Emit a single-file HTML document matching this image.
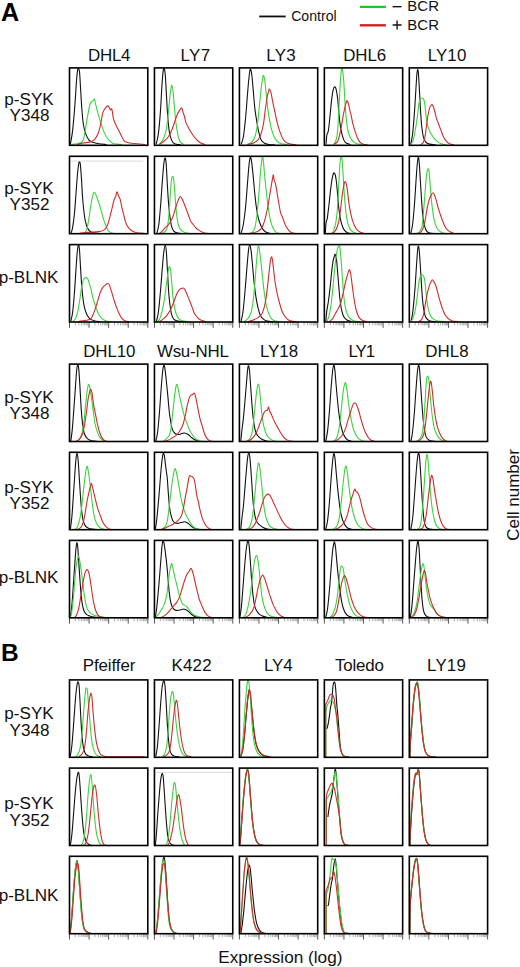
<!DOCTYPE html><html><head><meta charset="utf-8"><style>html,body{margin:0;padding:0;background:#fff;}svg{display:block;}</style></head><body>
<svg width="520" height="967" viewBox="0 0 520 967" font-family='"Liberation Sans", sans-serif'>
<rect width="520" height="967" fill="#fff"/>
<line x1="259.2" y1="16.45" x2="285.7" y2="16.45" stroke="#111" stroke-width="1.8"/>
<text x="291.18" y="20.60" font-size="14.10" fill="#111">Control</text>
<line x1="359.9" y1="6.9" x2="385.9" y2="6.9" stroke="#1ccc1c" stroke-width="2.3"/>
<line x1="359.9" y1="25.3" x2="385.9" y2="25.3" stroke="#d41a1a" stroke-width="2.3"/>
<line x1="392.6" y1="6.7" x2="401.5" y2="6.7" stroke="#111" stroke-width="1.35"/>
<path d="M392.6,25 H401.6 M397.1,20.5 V29.5" stroke="#111" stroke-width="1.35"/>
<text x="407.17" y="11.20" font-size="15.00" letter-spacing="0.13" fill="#111">BCR</text>
<text x="407.17" y="29.90" font-size="15.00" letter-spacing="0.13" fill="#111">BCR</text>
<text x="1.07" y="20.70" font-size="25.20" font-weight="bold" fill="#000">A</text>
<text x="0.96" y="661.10" font-size="24.50" font-weight="bold" fill="#000">B</text>
<text x="88.01" y="60.60" font-size="16.90" letter-spacing="-0.24" fill="#111">DHL4</text>
<text x="180.51" y="60.60" font-size="16.90" letter-spacing="0.38" fill="#111">LY7</text>
<text x="266.31" y="60.60" font-size="16.90" letter-spacing="0.33" fill="#111">LY3</text>
<text x="343.21" y="60.60" font-size="16.90" letter-spacing="-0.11" fill="#111">DHL6</text>
<text x="427.66" y="60.60" font-size="16.90" letter-spacing="0.14" fill="#111">LY10</text>
<text x="83.31" y="356.90" font-size="16.90" letter-spacing="-0.14" fill="#111">DHL10</text>
<text x="156.93" y="356.90" font-size="16.90" letter-spacing="-0.22" fill="#111">Wsu-NHL</text>
<text x="260.01" y="356.90" font-size="16.90" letter-spacing="-0.05" fill="#111">LY18</text>
<text x="348.41" y="356.90" font-size="16.90" letter-spacing="-1.03" fill="#111">LY1</text>
<text x="425.31" y="356.90" font-size="16.90" letter-spacing="0.07" fill="#111">DHL8</text>
<text x="82.76" y="671.00" font-size="16.90" letter-spacing="-0.09" fill="#111">Pfeiffer</text>
<text x="171.51" y="671.00" font-size="16.90" letter-spacing="0.22" fill="#111">K422</text>
<text x="264.01" y="671.00" font-size="16.90" letter-spacing="-0.09" fill="#111">LY4</text>
<text x="335.12" y="671.00" font-size="16.90" letter-spacing="-0.20" fill="#111">Toledo</text>
<text x="427.11" y="671.00" font-size="16.90" letter-spacing="0.17" fill="#111">LY19</text>
<text x="4.33" y="104.80" font-size="17.10" fill="#111">p-SYK</text>
<text x="9.57" y="121.30" font-size="17.10" fill="#111">Y348</text>
<text x="4.33" y="193.50" font-size="17.10" fill="#111">p-SYK</text>
<text x="9.62" y="210.10" font-size="17.10" fill="#111">Y352</text>
<text x="-1.34" y="283.40" font-size="17.10" fill="#111">p-BLNK</text>
<text x="4.33" y="402.50" font-size="17.10" fill="#111">p-SYK</text>
<text x="9.57" y="418.70" font-size="17.10" fill="#111">Y348</text>
<text x="4.33" y="492.90" font-size="17.10" fill="#111">p-SYK</text>
<text x="9.62" y="509.40" font-size="17.10" fill="#111">Y352</text>
<text x="-1.34" y="582.90" font-size="17.10" fill="#111">p-BLNK</text>
<text x="4.33" y="719.40" font-size="17.10" fill="#111">p-SYK</text>
<text x="9.57" y="736.20" font-size="17.10" fill="#111">Y348</text>
<text x="4.33" y="809.40" font-size="17.10" fill="#111">p-SYK</text>
<text x="9.62" y="826.20" font-size="17.10" fill="#111">Y352</text>
<text x="-1.34" y="901.20" font-size="17.10" fill="#111">p-BLNK</text>
<text x="218.24" y="962.60" font-size="17.20" fill="#111">Expression (log)</text>
<text transform="translate(518.8,494.6) rotate(-90)" x="-46.11" y="0" font-size="17.00" fill="#111">Cell number</text>
<path d="M69.50,322.00 v5.8 M89.08,322.00 v5.8 M108.65,322.00 v5.8 M128.22,322.00 v5.8 M147.80,322.00 v5.8" stroke="#555" stroke-width="1" fill="none"/>
<path d="M75.39,322.00 v3.4 M78.84,322.00 v3.4 M81.29,322.00 v3.4 M83.18,322.00 v3.4 M84.73,322.00 v3.4 M86.04,322.00 v3.4 M87.18,322.00 v3.4 M88.18,322.00 v3.4 M94.97,322.00 v3.4 M98.41,322.00 v3.4 M100.86,322.00 v3.4 M102.76,322.00 v3.4 M104.31,322.00 v3.4 M105.62,322.00 v3.4 M106.75,322.00 v3.4 M107.75,322.00 v3.4 M114.54,322.00 v3.4 M117.99,322.00 v3.4 M120.44,322.00 v3.4 M122.33,322.00 v3.4 M123.88,322.00 v3.4 M125.19,322.00 v3.4 M126.33,322.00 v3.4 M127.33,322.00 v3.4 M134.12,322.00 v3.4 M137.56,322.00 v3.4 M140.01,322.00 v3.4 M141.91,322.00 v3.4 M143.46,322.00 v3.4 M144.77,322.00 v3.4 M145.90,322.00 v3.4 M146.90,322.00 v3.4" stroke="#999" stroke-width="0.8" fill="none"/>
<path d="M154.45,322.00 v5.8 M174.02,322.00 v5.8 M193.60,322.00 v5.8 M213.17,322.00 v5.8 M232.75,322.00 v5.8" stroke="#555" stroke-width="1" fill="none"/>
<path d="M160.34,322.00 v3.4 M163.79,322.00 v3.4 M166.24,322.00 v3.4 M168.13,322.00 v3.4 M169.68,322.00 v3.4 M170.99,322.00 v3.4 M172.13,322.00 v3.4 M173.13,322.00 v3.4 M179.92,322.00 v3.4 M183.36,322.00 v3.4 M185.81,322.00 v3.4 M187.71,322.00 v3.4 M189.26,322.00 v3.4 M190.57,322.00 v3.4 M191.70,322.00 v3.4 M192.70,322.00 v3.4 M199.49,322.00 v3.4 M202.94,322.00 v3.4 M205.39,322.00 v3.4 M207.28,322.00 v3.4 M208.83,322.00 v3.4 M210.14,322.00 v3.4 M211.28,322.00 v3.4 M212.28,322.00 v3.4 M219.07,322.00 v3.4 M222.51,322.00 v3.4 M224.96,322.00 v3.4 M226.86,322.00 v3.4 M228.41,322.00 v3.4 M229.72,322.00 v3.4 M230.85,322.00 v3.4 M231.85,322.00 v3.4" stroke="#999" stroke-width="0.8" fill="none"/>
<path d="M239.40,322.00 v5.8 M258.98,322.00 v5.8 M278.55,322.00 v5.8 M298.12,322.00 v5.8 M317.70,322.00 v5.8" stroke="#555" stroke-width="1" fill="none"/>
<path d="M245.29,322.00 v3.4 M248.74,322.00 v3.4 M251.19,322.00 v3.4 M253.08,322.00 v3.4 M254.63,322.00 v3.4 M255.94,322.00 v3.4 M257.08,322.00 v3.4 M258.08,322.00 v3.4 M264.87,322.00 v3.4 M268.31,322.00 v3.4 M270.76,322.00 v3.4 M272.66,322.00 v3.4 M274.21,322.00 v3.4 M275.52,322.00 v3.4 M276.65,322.00 v3.4 M277.65,322.00 v3.4 M284.44,322.00 v3.4 M287.89,322.00 v3.4 M290.34,322.00 v3.4 M292.23,322.00 v3.4 M293.78,322.00 v3.4 M295.09,322.00 v3.4 M296.23,322.00 v3.4 M297.23,322.00 v3.4 M304.02,322.00 v3.4 M307.46,322.00 v3.4 M309.91,322.00 v3.4 M311.81,322.00 v3.4 M313.36,322.00 v3.4 M314.67,322.00 v3.4 M315.80,322.00 v3.4 M316.80,322.00 v3.4" stroke="#999" stroke-width="0.8" fill="none"/>
<path d="M324.35,322.00 v5.8 M343.93,322.00 v5.8 M363.50,322.00 v5.8 M383.08,322.00 v5.8 M402.65,322.00 v5.8" stroke="#555" stroke-width="1" fill="none"/>
<path d="M330.24,322.00 v3.4 M333.69,322.00 v3.4 M336.14,322.00 v3.4 M338.03,322.00 v3.4 M339.58,322.00 v3.4 M340.89,322.00 v3.4 M342.03,322.00 v3.4 M343.03,322.00 v3.4 M349.82,322.00 v3.4 M353.26,322.00 v3.4 M355.71,322.00 v3.4 M357.61,322.00 v3.4 M359.16,322.00 v3.4 M360.47,322.00 v3.4 M361.60,322.00 v3.4 M362.60,322.00 v3.4 M369.39,322.00 v3.4 M372.84,322.00 v3.4 M375.29,322.00 v3.4 M377.18,322.00 v3.4 M378.73,322.00 v3.4 M380.04,322.00 v3.4 M381.18,322.00 v3.4 M382.18,322.00 v3.4 M388.97,322.00 v3.4 M392.41,322.00 v3.4 M394.86,322.00 v3.4 M396.76,322.00 v3.4 M398.31,322.00 v3.4 M399.62,322.00 v3.4 M400.75,322.00 v3.4 M401.75,322.00 v3.4" stroke="#999" stroke-width="0.8" fill="none"/>
<path d="M409.30,322.00 v5.8 M428.88,322.00 v5.8 M448.45,322.00 v5.8 M468.02,322.00 v5.8 M487.60,322.00 v5.8" stroke="#555" stroke-width="1" fill="none"/>
<path d="M415.19,322.00 v3.4 M418.64,322.00 v3.4 M421.09,322.00 v3.4 M422.98,322.00 v3.4 M424.53,322.00 v3.4 M425.84,322.00 v3.4 M426.98,322.00 v3.4 M427.98,322.00 v3.4 M434.77,322.00 v3.4 M438.21,322.00 v3.4 M440.66,322.00 v3.4 M442.56,322.00 v3.4 M444.11,322.00 v3.4 M445.42,322.00 v3.4 M446.55,322.00 v3.4 M447.55,322.00 v3.4 M454.34,322.00 v3.4 M457.79,322.00 v3.4 M460.24,322.00 v3.4 M462.13,322.00 v3.4 M463.68,322.00 v3.4 M464.99,322.00 v3.4 M466.13,322.00 v3.4 M467.13,322.00 v3.4 M473.92,322.00 v3.4 M477.36,322.00 v3.4 M479.81,322.00 v3.4 M481.71,322.00 v3.4 M483.26,322.00 v3.4 M484.57,322.00 v3.4 M485.70,322.00 v3.4 M486.70,322.00 v3.4" stroke="#999" stroke-width="0.8" fill="none"/>
<path d="M69.50,617.80 v5.8 M89.08,617.80 v5.8 M108.65,617.80 v5.8 M128.22,617.80 v5.8 M147.80,617.80 v5.8" stroke="#555" stroke-width="1" fill="none"/>
<path d="M75.39,617.80 v3.4 M78.84,617.80 v3.4 M81.29,617.80 v3.4 M83.18,617.80 v3.4 M84.73,617.80 v3.4 M86.04,617.80 v3.4 M87.18,617.80 v3.4 M88.18,617.80 v3.4 M94.97,617.80 v3.4 M98.41,617.80 v3.4 M100.86,617.80 v3.4 M102.76,617.80 v3.4 M104.31,617.80 v3.4 M105.62,617.80 v3.4 M106.75,617.80 v3.4 M107.75,617.80 v3.4 M114.54,617.80 v3.4 M117.99,617.80 v3.4 M120.44,617.80 v3.4 M122.33,617.80 v3.4 M123.88,617.80 v3.4 M125.19,617.80 v3.4 M126.33,617.80 v3.4 M127.33,617.80 v3.4 M134.12,617.80 v3.4 M137.56,617.80 v3.4 M140.01,617.80 v3.4 M141.91,617.80 v3.4 M143.46,617.80 v3.4 M144.77,617.80 v3.4 M145.90,617.80 v3.4 M146.90,617.80 v3.4" stroke="#999" stroke-width="0.8" fill="none"/>
<path d="M154.45,617.80 v5.8 M174.02,617.80 v5.8 M193.60,617.80 v5.8 M213.17,617.80 v5.8 M232.75,617.80 v5.8" stroke="#555" stroke-width="1" fill="none"/>
<path d="M160.34,617.80 v3.4 M163.79,617.80 v3.4 M166.24,617.80 v3.4 M168.13,617.80 v3.4 M169.68,617.80 v3.4 M170.99,617.80 v3.4 M172.13,617.80 v3.4 M173.13,617.80 v3.4 M179.92,617.80 v3.4 M183.36,617.80 v3.4 M185.81,617.80 v3.4 M187.71,617.80 v3.4 M189.26,617.80 v3.4 M190.57,617.80 v3.4 M191.70,617.80 v3.4 M192.70,617.80 v3.4 M199.49,617.80 v3.4 M202.94,617.80 v3.4 M205.39,617.80 v3.4 M207.28,617.80 v3.4 M208.83,617.80 v3.4 M210.14,617.80 v3.4 M211.28,617.80 v3.4 M212.28,617.80 v3.4 M219.07,617.80 v3.4 M222.51,617.80 v3.4 M224.96,617.80 v3.4 M226.86,617.80 v3.4 M228.41,617.80 v3.4 M229.72,617.80 v3.4 M230.85,617.80 v3.4 M231.85,617.80 v3.4" stroke="#999" stroke-width="0.8" fill="none"/>
<path d="M239.40,617.80 v5.8 M258.98,617.80 v5.8 M278.55,617.80 v5.8 M298.12,617.80 v5.8 M317.70,617.80 v5.8" stroke="#555" stroke-width="1" fill="none"/>
<path d="M245.29,617.80 v3.4 M248.74,617.80 v3.4 M251.19,617.80 v3.4 M253.08,617.80 v3.4 M254.63,617.80 v3.4 M255.94,617.80 v3.4 M257.08,617.80 v3.4 M258.08,617.80 v3.4 M264.87,617.80 v3.4 M268.31,617.80 v3.4 M270.76,617.80 v3.4 M272.66,617.80 v3.4 M274.21,617.80 v3.4 M275.52,617.80 v3.4 M276.65,617.80 v3.4 M277.65,617.80 v3.4 M284.44,617.80 v3.4 M287.89,617.80 v3.4 M290.34,617.80 v3.4 M292.23,617.80 v3.4 M293.78,617.80 v3.4 M295.09,617.80 v3.4 M296.23,617.80 v3.4 M297.23,617.80 v3.4 M304.02,617.80 v3.4 M307.46,617.80 v3.4 M309.91,617.80 v3.4 M311.81,617.80 v3.4 M313.36,617.80 v3.4 M314.67,617.80 v3.4 M315.80,617.80 v3.4 M316.80,617.80 v3.4" stroke="#999" stroke-width="0.8" fill="none"/>
<path d="M324.35,617.80 v5.8 M343.93,617.80 v5.8 M363.50,617.80 v5.8 M383.08,617.80 v5.8 M402.65,617.80 v5.8" stroke="#555" stroke-width="1" fill="none"/>
<path d="M330.24,617.80 v3.4 M333.69,617.80 v3.4 M336.14,617.80 v3.4 M338.03,617.80 v3.4 M339.58,617.80 v3.4 M340.89,617.80 v3.4 M342.03,617.80 v3.4 M343.03,617.80 v3.4 M349.82,617.80 v3.4 M353.26,617.80 v3.4 M355.71,617.80 v3.4 M357.61,617.80 v3.4 M359.16,617.80 v3.4 M360.47,617.80 v3.4 M361.60,617.80 v3.4 M362.60,617.80 v3.4 M369.39,617.80 v3.4 M372.84,617.80 v3.4 M375.29,617.80 v3.4 M377.18,617.80 v3.4 M378.73,617.80 v3.4 M380.04,617.80 v3.4 M381.18,617.80 v3.4 M382.18,617.80 v3.4 M388.97,617.80 v3.4 M392.41,617.80 v3.4 M394.86,617.80 v3.4 M396.76,617.80 v3.4 M398.31,617.80 v3.4 M399.62,617.80 v3.4 M400.75,617.80 v3.4 M401.75,617.80 v3.4" stroke="#999" stroke-width="0.8" fill="none"/>
<path d="M409.30,617.80 v5.8 M428.88,617.80 v5.8 M448.45,617.80 v5.8 M468.02,617.80 v5.8 M487.60,617.80 v5.8" stroke="#555" stroke-width="1" fill="none"/>
<path d="M415.19,617.80 v3.4 M418.64,617.80 v3.4 M421.09,617.80 v3.4 M422.98,617.80 v3.4 M424.53,617.80 v3.4 M425.84,617.80 v3.4 M426.98,617.80 v3.4 M427.98,617.80 v3.4 M434.77,617.80 v3.4 M438.21,617.80 v3.4 M440.66,617.80 v3.4 M442.56,617.80 v3.4 M444.11,617.80 v3.4 M445.42,617.80 v3.4 M446.55,617.80 v3.4 M447.55,617.80 v3.4 M454.34,617.80 v3.4 M457.79,617.80 v3.4 M460.24,617.80 v3.4 M462.13,617.80 v3.4 M463.68,617.80 v3.4 M464.99,617.80 v3.4 M466.13,617.80 v3.4 M467.13,617.80 v3.4 M473.92,617.80 v3.4 M477.36,617.80 v3.4 M479.81,617.80 v3.4 M481.71,617.80 v3.4 M483.26,617.80 v3.4 M484.57,617.80 v3.4 M485.70,617.80 v3.4 M486.70,617.80 v3.4" stroke="#999" stroke-width="0.8" fill="none"/>
<path d="M69.50,933.70 v5.8 M89.08,933.70 v5.8 M108.65,933.70 v5.8 M128.22,933.70 v5.8 M147.80,933.70 v5.8" stroke="#555" stroke-width="1" fill="none"/>
<path d="M75.39,933.70 v3.4 M78.84,933.70 v3.4 M81.29,933.70 v3.4 M83.18,933.70 v3.4 M84.73,933.70 v3.4 M86.04,933.70 v3.4 M87.18,933.70 v3.4 M88.18,933.70 v3.4 M94.97,933.70 v3.4 M98.41,933.70 v3.4 M100.86,933.70 v3.4 M102.76,933.70 v3.4 M104.31,933.70 v3.4 M105.62,933.70 v3.4 M106.75,933.70 v3.4 M107.75,933.70 v3.4 M114.54,933.70 v3.4 M117.99,933.70 v3.4 M120.44,933.70 v3.4 M122.33,933.70 v3.4 M123.88,933.70 v3.4 M125.19,933.70 v3.4 M126.33,933.70 v3.4 M127.33,933.70 v3.4 M134.12,933.70 v3.4 M137.56,933.70 v3.4 M140.01,933.70 v3.4 M141.91,933.70 v3.4 M143.46,933.70 v3.4 M144.77,933.70 v3.4 M145.90,933.70 v3.4 M146.90,933.70 v3.4" stroke="#999" stroke-width="0.8" fill="none"/>
<path d="M154.45,933.70 v5.8 M174.02,933.70 v5.8 M193.60,933.70 v5.8 M213.17,933.70 v5.8 M232.75,933.70 v5.8" stroke="#555" stroke-width="1" fill="none"/>
<path d="M160.34,933.70 v3.4 M163.79,933.70 v3.4 M166.24,933.70 v3.4 M168.13,933.70 v3.4 M169.68,933.70 v3.4 M170.99,933.70 v3.4 M172.13,933.70 v3.4 M173.13,933.70 v3.4 M179.92,933.70 v3.4 M183.36,933.70 v3.4 M185.81,933.70 v3.4 M187.71,933.70 v3.4 M189.26,933.70 v3.4 M190.57,933.70 v3.4 M191.70,933.70 v3.4 M192.70,933.70 v3.4 M199.49,933.70 v3.4 M202.94,933.70 v3.4 M205.39,933.70 v3.4 M207.28,933.70 v3.4 M208.83,933.70 v3.4 M210.14,933.70 v3.4 M211.28,933.70 v3.4 M212.28,933.70 v3.4 M219.07,933.70 v3.4 M222.51,933.70 v3.4 M224.96,933.70 v3.4 M226.86,933.70 v3.4 M228.41,933.70 v3.4 M229.72,933.70 v3.4 M230.85,933.70 v3.4 M231.85,933.70 v3.4" stroke="#999" stroke-width="0.8" fill="none"/>
<path d="M239.40,933.70 v5.8 M258.98,933.70 v5.8 M278.55,933.70 v5.8 M298.12,933.70 v5.8 M317.70,933.70 v5.8" stroke="#555" stroke-width="1" fill="none"/>
<path d="M245.29,933.70 v3.4 M248.74,933.70 v3.4 M251.19,933.70 v3.4 M253.08,933.70 v3.4 M254.63,933.70 v3.4 M255.94,933.70 v3.4 M257.08,933.70 v3.4 M258.08,933.70 v3.4 M264.87,933.70 v3.4 M268.31,933.70 v3.4 M270.76,933.70 v3.4 M272.66,933.70 v3.4 M274.21,933.70 v3.4 M275.52,933.70 v3.4 M276.65,933.70 v3.4 M277.65,933.70 v3.4 M284.44,933.70 v3.4 M287.89,933.70 v3.4 M290.34,933.70 v3.4 M292.23,933.70 v3.4 M293.78,933.70 v3.4 M295.09,933.70 v3.4 M296.23,933.70 v3.4 M297.23,933.70 v3.4 M304.02,933.70 v3.4 M307.46,933.70 v3.4 M309.91,933.70 v3.4 M311.81,933.70 v3.4 M313.36,933.70 v3.4 M314.67,933.70 v3.4 M315.80,933.70 v3.4 M316.80,933.70 v3.4" stroke="#999" stroke-width="0.8" fill="none"/>
<path d="M324.35,933.70 v5.8 M343.93,933.70 v5.8 M363.50,933.70 v5.8 M383.08,933.70 v5.8 M402.65,933.70 v5.8" stroke="#555" stroke-width="1" fill="none"/>
<path d="M330.24,933.70 v3.4 M333.69,933.70 v3.4 M336.14,933.70 v3.4 M338.03,933.70 v3.4 M339.58,933.70 v3.4 M340.89,933.70 v3.4 M342.03,933.70 v3.4 M343.03,933.70 v3.4 M349.82,933.70 v3.4 M353.26,933.70 v3.4 M355.71,933.70 v3.4 M357.61,933.70 v3.4 M359.16,933.70 v3.4 M360.47,933.70 v3.4 M361.60,933.70 v3.4 M362.60,933.70 v3.4 M369.39,933.70 v3.4 M372.84,933.70 v3.4 M375.29,933.70 v3.4 M377.18,933.70 v3.4 M378.73,933.70 v3.4 M380.04,933.70 v3.4 M381.18,933.70 v3.4 M382.18,933.70 v3.4 M388.97,933.70 v3.4 M392.41,933.70 v3.4 M394.86,933.70 v3.4 M396.76,933.70 v3.4 M398.31,933.70 v3.4 M399.62,933.70 v3.4 M400.75,933.70 v3.4 M401.75,933.70 v3.4" stroke="#999" stroke-width="0.8" fill="none"/>
<path d="M409.30,933.70 v5.8 M428.88,933.70 v5.8 M448.45,933.70 v5.8 M468.02,933.70 v5.8 M487.60,933.70 v5.8" stroke="#555" stroke-width="1" fill="none"/>
<path d="M415.19,933.70 v3.4 M418.64,933.70 v3.4 M421.09,933.70 v3.4 M422.98,933.70 v3.4 M424.53,933.70 v3.4 M425.84,933.70 v3.4 M426.98,933.70 v3.4 M427.98,933.70 v3.4 M434.77,933.70 v3.4 M438.21,933.70 v3.4 M440.66,933.70 v3.4 M442.56,933.70 v3.4 M444.11,933.70 v3.4 M445.42,933.70 v3.4 M446.55,933.70 v3.4 M447.55,933.70 v3.4 M454.34,933.70 v3.4 M457.79,933.70 v3.4 M460.24,933.70 v3.4 M462.13,933.70 v3.4 M463.68,933.70 v3.4 M464.99,933.70 v3.4 M466.13,933.70 v3.4 M467.13,933.70 v3.4 M473.92,933.70 v3.4 M477.36,933.70 v3.4 M479.81,933.70 v3.4 M481.71,933.70 v3.4 M483.26,933.70 v3.4 M484.57,933.70 v3.4 M485.70,933.70 v3.4 M486.70,933.70 v3.4" stroke="#999" stroke-width="0.8" fill="none"/>
<g fill="none" stroke-width="1.1" stroke-linejoin="round" clip-path="url(#clip0_0)">
<path d="M70.31,144.46 C70.69,142.15 71.85,137.28 72.62,130.62 C73.38,123.95 74.28,112.67 74.92,104.46 C75.56,96.26 76.03,87.03 76.46,81.38 C76.90,75.74 77.21,72.79 77.54,70.62 C77.87,68.44 78.13,68.05 78.46,68.31 C78.79,68.56 79.18,68.69 79.54,72.15 C79.90,75.62 80.23,82.92 80.62,89.08 C81.00,95.23 81.38,103.18 81.85,109.08 C82.31,114.97 82.74,120.36 83.38,124.46 C84.03,128.56 84.79,131.13 85.69,133.69 C86.59,136.26 87.62,138.44 88.77,139.85 C89.92,141.26 90.95,141.51 92.62,142.15 C94.28,142.79 96.46,143.31 98.77,143.69 C101.08,144.08 105.18,144.33 106.46,144.46" stroke="#111"/>
<path d="M71.08,144.46 C72.10,144.33 75.31,144.21 77.23,143.69 C79.15,143.18 81.33,143.31 82.62,141.38 C83.90,139.46 84.15,136.00 84.92,132.15 C85.69,128.31 86.46,122.67 87.23,118.31 C88.00,113.95 88.90,108.69 89.54,106.00 C90.18,103.31 90.56,102.92 91.08,102.15 C91.59,101.38 92.05,101.90 92.62,101.38 C93.18,100.87 93.95,98.56 94.46,99.08 C94.97,99.59 95.10,102.03 95.69,104.46 C96.28,106.90 97.23,110.87 98.00,113.69 C98.77,116.51 99.41,118.56 100.31,121.38 C101.21,124.21 102.36,128.05 103.38,130.62 C104.41,133.18 105.31,134.97 106.46,136.77 C107.62,138.56 109.03,140.23 110.31,141.38 C111.59,142.54 112.23,143.18 114.15,143.69 C116.08,144.21 120.56,144.33 121.85,144.46" stroke="#3ad43a"/>
<path d="M77.23,144.46 C78.26,144.21 81.33,143.31 83.38,142.92 C85.44,142.54 87.74,142.67 89.54,142.15 C91.33,141.64 92.74,141.26 94.15,139.85 C95.56,138.44 96.97,136.00 98.00,133.69 C99.03,131.38 99.54,129.33 100.31,126.00 C101.08,122.67 101.97,116.38 102.62,113.69 C103.26,111.00 103.51,111.00 104.15,109.85 C104.79,108.69 105.77,107.41 106.46,106.77 C107.15,106.13 107.67,105.49 108.31,106.00 C108.95,106.51 109.72,109.33 110.31,109.85 C110.90,110.36 111.33,107.67 111.85,109.08 C112.36,110.49 112.74,115.74 113.38,118.31 C114.03,120.87 114.79,122.41 115.69,124.46 C116.59,126.51 117.74,128.56 118.77,130.62 C119.79,132.67 120.82,134.97 121.85,136.77 C122.87,138.56 123.64,140.36 124.92,141.38 C126.21,142.41 127.49,142.54 129.54,142.92 C131.59,143.31 134.67,143.44 137.23,143.69 C139.79,143.95 143.64,144.33 144.92,144.46" stroke="#d22b2b"/>
</g>
<g fill="none" stroke-width="1.1" stroke-linejoin="round" clip-path="url(#clip0_1)">
<path d="M156.08,144.46 C156.46,142.67 157.67,139.08 158.38,133.69 C159.10,128.31 159.79,120.10 160.38,112.15 C160.97,104.21 161.49,92.67 161.92,86.00 C162.36,79.33 162.64,75.10 163.00,72.15 C163.36,69.21 163.69,67.79 164.08,68.31 C164.46,68.82 164.90,70.49 165.31,75.23 C165.72,79.97 166.15,90.10 166.54,96.77 C166.92,103.44 167.18,109.59 167.62,115.23 C168.05,120.87 168.51,126.51 169.15,130.62 C169.79,134.72 170.56,137.67 171.46,139.85 C172.36,142.03 173.00,142.87 174.54,143.69 C176.08,144.51 179.67,144.59 180.69,144.77" stroke="#111"/>
<path d="M159.15,144.46 C159.79,143.69 161.85,142.15 163.00,139.85 C164.15,137.54 165.18,135.23 166.08,130.62 C166.97,126.00 167.74,117.79 168.38,112.15 C169.03,106.51 169.46,100.87 169.92,96.77 C170.38,92.67 170.85,89.46 171.15,87.54 C171.46,85.62 171.46,84.72 171.77,85.23 C172.08,85.74 172.59,87.41 173.00,90.62 C173.41,93.82 173.77,99.33 174.23,104.46 C174.69,109.59 175.21,116.51 175.77,121.38 C176.33,126.26 176.92,130.36 177.62,133.69 C178.31,137.03 178.90,139.59 179.92,141.38 C180.95,143.18 183.13,143.95 183.77,144.46" stroke="#3ad43a"/>
<path d="M159.15,144.46 C159.92,143.95 162.23,142.67 163.77,141.38 C165.31,140.10 166.97,138.82 168.38,136.77 C169.79,134.72 171.08,131.90 172.23,129.08 C173.38,126.26 174.41,122.41 175.31,119.85 C176.21,117.28 176.85,115.36 177.62,113.69 C178.38,112.03 179.23,110.82 179.92,109.85 C180.62,108.87 181.26,107.46 181.77,107.85 C182.28,108.23 182.54,110.67 183.00,112.15 C183.46,113.64 184.03,114.97 184.54,116.77 C185.05,118.56 185.31,120.87 186.08,122.92 C186.85,124.97 188.00,127.03 189.15,129.08 C190.31,131.13 191.72,133.44 193.00,135.23 C194.28,137.03 195.56,138.56 196.85,139.85 C198.13,141.13 199.28,142.15 200.69,142.92 C202.10,143.69 204.54,144.21 205.31,144.46" stroke="#d22b2b"/>
</g>
<g fill="none" stroke-width="1.1" stroke-linejoin="round" clip-path="url(#clip0_2)">
<path d="M241.08,144.46 C241.46,143.18 242.62,141.38 243.38,136.77 C244.15,132.15 245.00,123.95 245.69,116.77 C246.38,109.59 246.97,100.36 247.54,93.69 C248.10,87.03 248.62,80.87 249.08,76.77 C249.54,72.67 249.85,69.33 250.31,69.08 C250.77,68.82 251.33,71.38 251.85,75.23 C252.36,79.08 252.87,86.51 253.38,92.15 C253.90,97.79 254.36,104.21 254.92,109.08 C255.49,113.95 256.13,117.54 256.77,121.38 C257.41,125.23 258.05,129.08 258.77,132.15 C259.49,135.23 260.18,138.05 261.08,139.85 C261.97,141.64 262.87,142.15 264.15,142.92 C265.44,143.69 266.97,144.15 268.77,144.46 C270.56,144.77 273.90,144.72 274.92,144.77" stroke="#111"/>
<path d="M247.23,144.46 C248.00,144.08 250.56,143.44 251.85,142.15 C253.13,140.87 254.03,139.46 254.92,136.77 C255.82,134.08 256.51,130.87 257.23,126.00 C257.95,121.13 258.59,113.69 259.23,107.54 C259.87,101.38 260.51,93.95 261.08,89.08 C261.64,84.21 262.21,80.56 262.62,78.31 C263.03,76.05 263.15,75.03 263.54,75.54 C263.92,76.05 264.44,77.85 264.92,81.38 C265.41,84.92 265.87,91.38 266.46,96.77 C267.05,102.15 267.69,108.56 268.46,113.69 C269.23,118.82 270.13,123.69 271.08,127.54 C272.03,131.38 273.13,134.46 274.15,136.77 C275.18,139.08 276.08,140.23 277.23,141.38 C278.38,142.54 279.41,143.18 281.08,143.69 C282.74,144.21 286.21,144.33 287.23,144.46" stroke="#3ad43a"/>
<path d="M247.23,144.46 C248.26,144.21 251.59,143.69 253.38,142.92 C255.18,142.15 256.72,141.38 258.00,139.85 C259.28,138.31 260.18,136.26 261.08,133.69 C261.97,131.13 262.67,128.56 263.38,124.46 C264.10,120.36 264.74,113.69 265.38,109.08 C266.03,104.46 266.67,99.85 267.23,96.77 C267.79,93.69 268.38,91.90 268.77,90.62 C269.15,89.33 269.15,88.69 269.54,89.08 C269.92,89.46 270.56,90.87 271.08,92.92 C271.59,94.97 271.97,98.18 272.62,101.38 C273.26,104.59 274.15,108.56 274.92,112.15 C275.69,115.74 276.46,119.85 277.23,122.92 C278.00,126.00 278.64,128.05 279.54,130.62 C280.44,133.18 281.59,136.38 282.62,138.31 C283.64,140.23 284.41,141.18 285.69,142.15 C286.97,143.13 288.51,143.72 290.31,144.15 C292.10,144.59 295.44,144.67 296.46,144.77" stroke="#d22b2b"/>
</g>
<g fill="none" stroke-width="1.1" stroke-linejoin="round" clip-path="url(#clip0_3)">
<path d="M326.08,144.46 C326.21,142.92 326.46,137.54 326.85,135.23 C327.23,132.92 327.87,133.69 328.38,130.62 C328.90,127.54 329.41,121.64 329.92,116.77 C330.44,111.90 330.95,105.74 331.46,101.38 C331.97,97.03 332.49,93.05 333.00,90.62 C333.51,88.18 334.03,87.03 334.54,86.77 C335.05,86.51 335.56,87.15 336.08,89.08 C336.59,91.00 337.18,94.72 337.62,98.31 C338.05,101.90 338.31,106.51 338.69,110.62 C339.08,114.72 339.46,119.33 339.92,122.92 C340.38,126.51 340.82,129.33 341.46,132.15 C342.10,134.97 343.00,138.05 343.77,139.85 C344.54,141.64 344.92,142.15 346.08,142.92 C347.23,143.69 349.92,144.21 350.69,144.46" stroke="#111"/>
<path d="M333.77,144.46 C334.15,143.69 335.44,142.15 336.08,139.85 C336.72,137.54 337.18,135.23 337.62,130.62 C338.05,126.00 338.31,119.08 338.69,112.15 C339.08,105.23 339.51,95.74 339.92,89.08 C340.33,82.41 340.82,75.62 341.15,72.15 C341.49,68.69 341.67,68.56 341.92,68.31 C342.18,68.05 342.38,68.44 342.69,70.62 C343.00,72.79 343.41,76.51 343.77,81.38 C344.13,86.26 344.46,93.95 344.85,99.85 C345.23,105.74 345.62,111.90 346.08,116.77 C346.54,121.64 346.97,125.74 347.62,129.08 C348.26,132.41 349.03,134.72 349.92,136.77 C350.82,138.82 351.85,140.23 353.00,141.38 C354.15,142.54 355.44,143.18 356.85,143.69 C358.26,144.21 360.69,144.33 361.46,144.46" stroke="#3ad43a"/>
<path d="M333.77,144.46 C334.41,143.95 336.59,143.18 337.62,141.38 C338.64,139.59 339.28,136.26 339.92,133.69 C340.56,131.13 340.95,128.82 341.46,126.00 C341.97,123.18 342.49,119.59 343.00,116.77 C343.51,113.95 344.03,111.38 344.54,109.08 C345.05,106.77 345.64,104.33 346.08,102.92 C346.51,101.51 346.77,100.49 347.15,100.62 C347.54,100.74 347.92,102.03 348.38,103.69 C348.85,105.36 349.41,108.44 349.92,110.62 C350.44,112.79 350.95,114.46 351.46,116.77 C351.97,119.08 352.36,121.90 353.00,124.46 C353.64,127.03 354.54,129.85 355.31,132.15 C356.08,134.46 356.85,136.64 357.62,138.31 C358.38,139.97 359.03,141.18 359.92,142.15 C360.82,143.13 361.72,143.72 363.00,144.15 C364.28,144.59 366.85,144.67 367.62,144.77" stroke="#d22b2b"/>
</g>
<g fill="none" stroke-width="1.1" stroke-linejoin="round" clip-path="url(#clip0_4)">
<path d="M410.77,144.46 C411.08,142.67 412.00,139.08 412.62,133.69 C413.23,128.31 413.90,119.85 414.46,112.15 C415.03,104.46 415.59,93.95 416.00,87.54 C416.41,81.13 416.64,76.72 416.92,73.69 C417.21,70.67 417.44,69.38 417.69,69.38 C417.95,69.38 418.15,69.90 418.46,73.69 C418.77,77.49 419.18,85.74 419.54,92.15 C419.90,98.56 420.23,106.26 420.62,112.15 C421.00,118.05 421.38,123.44 421.85,127.54 C422.31,131.64 422.74,134.33 423.38,136.77 C424.03,139.21 424.67,140.92 425.69,142.15 C426.72,143.38 427.87,143.72 429.54,144.15 C431.21,144.59 434.67,144.67 435.69,144.77" stroke="#111"/>
<path d="M411.08,144.46 C411.46,143.69 412.62,142.67 413.38,139.85 C414.15,137.03 415.00,131.64 415.69,127.54 C416.38,123.44 416.97,119.33 417.54,115.23 C418.10,111.13 418.62,105.69 419.08,102.92 C419.54,100.15 419.85,99.38 420.31,98.62 C420.77,97.85 421.33,98.31 421.85,98.31 C422.36,98.31 422.92,97.85 423.38,98.62 C423.85,99.38 424.23,100.67 424.62,102.92 C425.00,105.18 425.33,109.08 425.69,112.15 C426.05,115.23 426.26,118.56 426.77,121.38 C427.28,124.21 428.05,127.03 428.77,129.08 C429.49,131.13 430.18,132.15 431.08,133.69 C431.97,135.23 433.13,137.03 434.15,138.31 C435.18,139.59 436.08,140.49 437.23,141.38 C438.38,142.28 439.54,143.13 441.08,143.69 C442.62,144.26 445.56,144.59 446.46,144.77" stroke="#3ad43a"/>
<path d="M420.31,144.77 C420.82,144.33 422.56,143.74 423.38,142.15 C424.21,140.56 424.72,137.92 425.23,135.23 C425.74,132.54 426.00,129.33 426.46,126.00 C426.92,122.67 427.49,118.18 428.00,115.23 C428.51,112.28 429.03,109.97 429.54,108.31 C430.05,106.64 430.64,105.82 431.08,105.23 C431.51,104.64 431.77,104.51 432.15,104.77 C432.54,105.03 432.92,105.54 433.38,106.77 C433.85,108.00 434.41,110.23 434.92,112.15 C435.44,114.08 435.82,116.26 436.46,118.31 C437.10,120.36 438.00,122.41 438.77,124.46 C439.54,126.51 440.31,128.56 441.08,130.62 C441.85,132.67 442.49,134.97 443.38,136.77 C444.28,138.56 445.44,140.23 446.46,141.38 C447.49,142.54 448.26,143.13 449.54,143.69 C450.82,144.26 453.38,144.59 454.15,144.77" stroke="#d22b2b"/>
</g>
<g fill="none" stroke-width="1.1" stroke-linejoin="round" clip-path="url(#clip1_0)">
<path d="M71.08,233.46 C71.33,232.44 72.05,230.64 72.62,227.31 C73.18,223.97 73.90,219.10 74.46,213.46 C75.03,207.82 75.49,200.13 76.00,193.46 C76.51,186.79 77.08,178.46 77.54,173.46 C78.00,168.46 78.44,165.46 78.77,163.46 C79.10,161.46 79.28,161.33 79.54,161.46 C79.79,161.59 79.97,161.21 80.31,164.23 C80.64,167.26 81.15,173.97 81.54,179.62 C81.92,185.26 82.18,192.44 82.62,198.08 C83.05,203.72 83.64,209.36 84.15,213.46 C84.67,217.56 85.05,220.13 85.69,222.69 C86.33,225.26 87.10,227.31 88.00,228.85 C88.90,230.38 89.79,231.21 91.08,231.92 C92.36,232.64 93.90,232.85 95.69,233.15 C97.49,233.46 100.82,233.67 101.85,233.77" stroke="#111"/>
<path d="M83.38,233.46 C83.90,232.95 85.56,232.69 86.46,230.38 C87.36,228.08 88.13,223.21 88.77,219.62 C89.41,216.03 89.79,212.18 90.31,208.85 C90.82,205.51 91.33,202.18 91.85,199.62 C92.36,197.05 92.95,194.69 93.38,193.46 C93.82,192.23 94.08,192.10 94.46,192.23 C94.85,192.36 95.23,193.26 95.69,194.23 C96.15,195.21 96.72,196.67 97.23,198.08 C97.74,199.49 98.26,201.15 98.77,202.69 C99.28,204.23 99.79,205.51 100.31,207.31 C100.82,209.10 101.21,211.15 101.85,213.46 C102.49,215.77 103.38,218.85 104.15,221.15 C104.92,223.46 105.69,225.64 106.46,227.31 C107.23,228.97 107.87,230.18 108.77,231.15 C109.67,232.13 110.44,232.72 111.85,233.15 C113.26,233.59 116.33,233.67 117.23,233.77" stroke="#3ad43a"/>
<path d="M77.23,233.77 C78.26,233.59 81.08,232.95 83.38,232.69 C85.69,232.44 88.51,232.41 91.08,232.23 C93.64,232.05 96.72,231.92 98.77,231.62 C100.82,231.31 102.10,231.10 103.38,230.38 C104.67,229.67 105.56,228.85 106.46,227.31 C107.36,225.77 108.05,223.46 108.77,221.15 C109.49,218.85 110.13,216.03 110.77,213.46 C111.41,210.90 112.05,208.08 112.62,205.77 C113.18,203.46 113.64,201.15 114.15,199.62 C114.67,198.08 115.23,197.82 115.69,196.54 C116.15,195.26 116.54,192.31 116.92,191.92 C117.31,191.54 117.69,193.46 118.00,194.23 C118.31,195.00 118.38,195.64 118.77,196.54 C119.15,197.44 119.79,197.82 120.31,199.62 C120.82,201.41 121.33,205.00 121.85,207.31 C122.36,209.62 122.82,211.15 123.38,213.46 C123.95,215.77 124.59,219.10 125.23,221.15 C125.87,223.21 126.51,224.49 127.23,225.77 C127.95,227.05 128.64,227.95 129.54,228.85 C130.44,229.74 131.33,230.51 132.62,231.15 C133.90,231.79 135.18,232.31 137.23,232.69 C139.28,233.08 143.64,233.33 144.92,233.46" stroke="#d22b2b"/>
</g>
<g fill="none" stroke-width="1.1" stroke-linejoin="round" clip-path="url(#clip1_1)">
<path d="M156.85,233.46 C157.18,231.92 158.21,229.10 158.85,224.23 C159.49,219.36 160.13,211.15 160.69,204.23 C161.26,197.31 161.72,189.36 162.23,182.69 C162.74,176.03 163.31,168.33 163.77,164.23 C164.23,160.13 164.62,158.33 165.00,158.08 C165.38,157.82 165.72,158.85 166.08,162.69 C166.44,166.54 166.77,174.74 167.15,181.15 C167.54,187.56 167.92,195.26 168.38,201.15 C168.85,207.05 169.41,212.44 169.92,216.54 C170.44,220.64 170.82,223.33 171.46,225.77 C172.10,228.21 172.74,229.92 173.77,231.15 C174.79,232.38 175.95,232.72 177.62,233.15 C179.28,233.59 182.74,233.67 183.77,233.77" stroke="#111"/>
<path d="M162.23,233.46 C162.87,232.95 165.10,232.18 166.08,230.38 C167.05,228.59 167.49,226.79 168.08,222.69 C168.67,218.59 169.18,211.41 169.62,205.77 C170.05,200.13 170.33,193.46 170.69,188.85 C171.05,184.23 171.46,180.18 171.77,178.08 C172.08,175.97 172.26,176.23 172.54,176.23 C172.82,176.23 173.13,175.97 173.46,178.08 C173.79,180.18 174.15,184.23 174.54,188.85 C174.92,193.46 175.31,200.64 175.77,205.77 C176.23,210.90 176.74,216.03 177.31,219.62 C177.87,223.21 178.33,225.38 179.15,227.31 C179.97,229.23 180.95,230.18 182.23,231.15 C183.51,232.13 185.05,232.72 186.85,233.15 C188.64,233.59 191.97,233.67 193.00,233.77" stroke="#3ad43a"/>
<path d="M159.15,233.77 C159.67,233.33 161.21,232.23 162.23,231.15 C163.26,230.08 164.28,228.33 165.31,227.31 C166.33,226.28 167.49,226.03 168.38,225.00 C169.28,223.97 169.92,222.56 170.69,221.15 C171.46,219.74 172.23,218.59 173.00,216.54 C173.77,214.49 174.59,211.15 175.31,208.85 C176.03,206.54 176.72,204.36 177.31,202.69 C177.90,201.03 178.33,199.87 178.85,198.85 C179.36,197.82 179.87,196.54 180.38,196.54 C180.90,196.54 181.36,197.82 181.92,198.85 C182.49,199.87 183.08,201.03 183.77,202.69 C184.46,204.36 185.31,206.79 186.08,208.85 C186.85,210.90 187.62,212.95 188.38,215.00 C189.15,217.05 189.92,219.62 190.69,221.15 C191.46,222.69 192.10,223.08 193.00,224.23 C193.90,225.38 195.05,227.05 196.08,228.08 C197.10,229.10 197.87,229.62 199.15,230.38 C200.44,231.15 201.72,232.13 203.77,232.69 C205.82,233.26 210.18,233.59 211.46,233.77" stroke="#d22b2b"/>
</g>
<g fill="none" stroke-width="1.1" stroke-linejoin="round" clip-path="url(#clip1_2)">
<path d="M241.08,233.46 C241.46,231.92 242.62,228.85 243.38,224.23 C244.15,219.62 245.00,212.69 245.69,205.77 C246.38,198.85 246.97,189.62 247.54,182.69 C248.10,175.77 248.62,168.46 249.08,164.23 C249.54,160.00 249.90,157.82 250.31,157.31 C250.72,156.79 251.08,158.21 251.54,161.15 C252.00,164.10 252.56,169.87 253.08,175.00 C253.59,180.13 254.10,186.79 254.62,191.92 C255.13,197.05 255.59,201.67 256.15,205.77 C256.72,209.87 257.31,213.46 258.00,216.54 C258.69,219.62 259.54,222.18 260.31,224.23 C261.08,226.28 261.72,227.56 262.62,228.85 C263.51,230.13 264.41,231.15 265.69,231.92 C266.97,232.69 268.51,233.15 270.31,233.46 C272.10,233.77 275.44,233.72 276.46,233.77" stroke="#111"/>
<path d="M248.77,233.77 C249.41,233.46 251.59,233.00 252.62,231.92 C253.64,230.85 254.23,229.87 254.92,227.31 C255.62,224.74 256.21,220.90 256.77,216.54 C257.33,212.18 257.79,207.05 258.31,201.15 C258.82,195.26 259.38,187.05 259.85,181.15 C260.31,175.26 260.67,169.74 261.08,165.77 C261.49,161.79 261.92,158.08 262.31,157.31 C262.69,156.54 263.03,158.46 263.38,161.15 C263.74,163.85 264.03,168.85 264.46,173.46 C264.90,178.08 265.41,183.46 266.00,188.85 C266.59,194.23 267.28,200.64 268.00,205.77 C268.72,210.90 269.54,216.03 270.31,219.62 C271.08,223.21 271.72,225.26 272.62,227.31 C273.51,229.36 274.54,230.90 275.69,231.92 C276.85,232.95 278.90,233.21 279.54,233.46" stroke="#3ad43a"/>
<path d="M247.23,233.77 C248.26,233.59 251.59,233.13 253.38,232.69 C255.18,232.26 256.72,231.79 258.00,231.15 C259.28,230.51 260.18,230.00 261.08,228.85 C261.97,227.69 262.62,226.28 263.38,224.23 C264.15,222.18 264.92,219.62 265.69,216.54 C266.46,213.46 267.28,209.62 268.00,205.77 C268.72,201.92 269.41,197.05 270.00,193.46 C270.59,189.87 271.10,186.79 271.54,184.23 C271.97,181.67 272.31,179.62 272.62,178.08 C272.92,176.54 273.10,174.49 273.38,175.00 C273.67,175.51 274.00,179.87 274.31,181.15 C274.62,182.44 274.87,181.41 275.23,182.69 C275.59,183.97 276.05,186.54 276.46,188.85 C276.87,191.15 277.23,193.72 277.69,196.54 C278.15,199.36 278.72,202.95 279.23,205.77 C279.74,208.59 280.26,211.67 280.77,213.46 C281.28,215.26 281.79,215.26 282.31,216.54 C282.82,217.82 283.28,219.62 283.85,221.15 C284.41,222.69 284.87,224.23 285.69,225.77 C286.51,227.31 287.74,229.23 288.77,230.38 C289.79,231.54 290.05,232.13 291.85,232.69 C293.64,233.26 298.26,233.59 299.54,233.77" stroke="#d22b2b"/>
</g>
<g fill="none" stroke-width="1.1" stroke-linejoin="round" clip-path="url(#clip1_3)">
<path d="M325.31,233.46 C325.44,231.67 325.74,225.26 326.08,222.69 C326.41,220.13 326.85,220.90 327.31,218.08 C327.77,215.26 328.28,210.64 328.85,205.77 C329.41,200.90 330.13,193.46 330.69,188.85 C331.26,184.23 331.77,180.64 332.23,178.08 C332.69,175.51 333.13,174.31 333.46,173.46 C333.79,172.62 333.92,172.74 334.23,173.00 C334.54,173.26 334.92,173.38 335.31,175.00 C335.69,176.62 336.15,179.36 336.54,182.69 C336.92,186.03 337.26,190.90 337.62,195.00 C337.97,199.10 338.26,203.46 338.69,207.31 C339.13,211.15 339.64,215.00 340.23,218.08 C340.82,221.15 341.51,223.72 342.23,225.77 C342.95,227.82 343.64,229.23 344.54,230.38 C345.44,231.54 346.33,232.13 347.62,232.69 C348.90,233.26 351.46,233.59 352.23,233.77" stroke="#111"/>
<path d="M331.46,233.77 C331.85,233.21 333.00,232.49 333.77,230.38 C334.54,228.28 335.44,225.26 336.08,221.15 C336.72,217.05 337.15,212.18 337.62,205.77 C338.08,199.36 338.46,189.62 338.85,182.69 C339.23,175.77 339.56,168.46 339.92,164.23 C340.28,160.00 340.67,158.33 341.00,157.31 C341.33,156.28 341.64,156.41 341.92,158.08 C342.21,159.74 342.38,162.69 342.69,167.31 C343.00,171.92 343.41,180.13 343.77,185.77 C344.13,191.41 344.46,196.54 344.85,201.15 C345.23,205.77 345.62,209.87 346.08,213.46 C346.54,217.05 346.97,220.13 347.62,222.69 C348.26,225.26 349.03,227.31 349.92,228.85 C350.82,230.38 351.85,231.15 353.00,231.92 C354.15,232.69 356.21,233.21 356.85,233.46" stroke="#3ad43a"/>
<path d="M330.69,233.77 C331.33,233.46 333.38,233.26 334.54,231.92 C335.69,230.59 336.77,228.33 337.62,225.77 C338.46,223.21 339.03,220.13 339.62,216.54 C340.21,212.95 340.64,208.33 341.15,204.23 C341.67,200.13 342.18,195.38 342.69,191.92 C343.21,188.46 343.79,185.21 344.23,183.46 C344.67,181.72 344.95,181.33 345.31,181.46 C345.67,181.59 346.00,182.49 346.38,184.23 C346.77,185.97 347.21,188.85 347.62,191.92 C348.03,195.00 348.38,199.36 348.85,202.69 C349.31,206.03 349.82,209.10 350.38,211.92 C350.95,214.74 351.54,217.31 352.23,219.62 C352.92,221.92 353.77,224.10 354.54,225.77 C355.31,227.44 355.95,228.59 356.85,229.62 C357.74,230.64 358.64,231.28 359.92,231.92 C361.21,232.56 363.77,233.21 364.54,233.46" stroke="#d22b2b"/>
</g>
<g fill="none" stroke-width="1.1" stroke-linejoin="round" clip-path="url(#clip1_4)">
<path d="M410.77,233.46 C411.08,231.92 412.00,229.10 412.62,224.23 C413.23,219.36 413.90,211.41 414.46,204.23 C415.03,197.05 415.54,187.82 416.00,181.15 C416.46,174.49 416.85,168.21 417.23,164.23 C417.62,160.26 417.97,157.56 418.31,157.31 C418.64,157.05 418.90,158.97 419.23,162.69 C419.56,166.41 419.92,173.46 420.31,179.62 C420.69,185.77 421.13,193.72 421.54,199.62 C421.95,205.51 422.33,210.90 422.77,215.00 C423.21,219.10 423.59,221.67 424.15,224.23 C424.72,226.79 425.26,228.92 426.15,230.38 C427.05,231.85 427.95,232.44 429.54,233.00 C431.13,233.56 434.67,233.64 435.69,233.77" stroke="#111"/>
<path d="M415.69,233.77 C416.33,233.46 418.46,233.26 419.54,231.92 C420.62,230.59 421.51,228.85 422.15,225.77 C422.79,222.69 422.97,218.08 423.38,213.46 C423.79,208.85 424.23,202.95 424.62,198.08 C425.00,193.21 425.33,188.33 425.69,184.23 C426.05,180.13 426.38,176.03 426.77,173.46 C427.15,170.90 427.62,169.10 428.00,168.85 C428.38,168.59 428.69,169.10 429.08,171.92 C429.46,174.74 429.92,181.15 430.31,185.77 C430.69,190.38 431.00,195.51 431.38,199.62 C431.77,203.72 432.15,207.05 432.62,210.38 C433.08,213.72 433.51,216.79 434.15,219.62 C434.79,222.44 435.56,225.38 436.46,227.31 C437.36,229.23 438.38,230.18 439.54,231.15 C440.69,232.13 441.97,232.72 443.38,233.15 C444.79,233.59 447.23,233.67 448.00,233.77" stroke="#3ad43a"/>
<path d="M417.23,233.77 C417.87,233.46 420.05,233.00 421.08,231.92 C422.10,230.85 422.69,229.36 423.38,227.31 C424.08,225.26 424.67,222.44 425.23,219.62 C425.79,216.79 426.18,213.46 426.77,210.38 C427.36,207.31 428.05,203.72 428.77,201.15 C429.49,198.59 430.36,196.41 431.08,195.00 C431.79,193.59 432.51,192.69 433.08,192.69 C433.64,192.69 433.97,193.85 434.46,195.00 C434.95,196.15 435.41,197.56 436.00,199.62 C436.59,201.67 437.33,205.00 438.00,207.31 C438.67,209.62 439.31,211.41 440.00,213.46 C440.69,215.51 441.38,217.56 442.15,219.62 C442.92,221.67 443.77,224.10 444.62,225.77 C445.46,227.44 446.28,228.59 447.23,229.62 C448.18,230.64 449.15,231.28 450.31,231.92 C451.46,232.56 453.51,233.21 454.15,233.46" stroke="#d22b2b"/>
</g>
<g fill="none" stroke-width="1.1" stroke-linejoin="round" clip-path="url(#clip2_0)">
<path d="M70.77,321.46 C71.08,319.92 72.00,317.10 72.62,312.23 C73.23,307.36 73.90,299.41 74.46,292.23 C75.03,285.05 75.54,275.82 76.00,269.15 C76.46,262.49 76.82,256.28 77.23,252.23 C77.64,248.18 78.08,245.10 78.46,244.85 C78.85,244.59 79.18,246.64 79.54,250.69 C79.90,254.74 80.23,263.00 80.62,269.15 C81.00,275.31 81.38,282.23 81.85,287.62 C82.31,293.00 82.87,297.87 83.38,301.46 C83.90,305.05 84.28,306.85 84.92,309.15 C85.56,311.46 86.33,313.64 87.23,315.31 C88.13,316.97 89.15,318.26 90.31,319.15 C91.46,320.05 92.49,320.26 94.15,320.69 C95.82,321.13 99.28,321.59 100.31,321.77" stroke="#111"/>
<path d="M72.62,321.77 C73.13,321.21 74.79,320.23 75.69,318.38 C76.59,316.54 77.28,314.03 78.00,310.69 C78.72,307.36 79.41,302.23 80.00,298.38 C80.59,294.54 81.03,290.56 81.54,287.62 C82.05,284.67 82.56,282.28 83.08,280.69 C83.59,279.10 84.05,278.59 84.62,278.08 C85.18,277.56 85.90,277.44 86.46,277.62 C87.03,277.79 87.49,278.00 88.00,279.15 C88.51,280.31 89.03,282.87 89.54,284.54 C90.05,286.21 90.56,287.10 91.08,289.15 C91.59,291.21 92.05,294.54 92.62,296.85 C93.18,299.15 93.82,300.95 94.46,303.00 C95.10,305.05 95.74,307.23 96.46,309.15 C97.18,311.08 97.87,313.00 98.77,314.54 C99.67,316.08 100.69,317.36 101.85,318.38 C103.00,319.41 104.15,320.13 105.69,320.69 C107.23,321.26 110.18,321.59 111.08,321.77" stroke="#3ad43a"/>
<path d="M77.23,321.77 C78.26,321.59 81.59,321.00 83.38,320.69 C85.18,320.38 86.72,320.31 88.00,319.92 C89.28,319.54 90.18,319.41 91.08,318.38 C91.97,317.36 92.62,315.56 93.38,313.77 C94.15,311.97 94.92,309.92 95.69,307.62 C96.46,305.31 97.23,302.49 98.00,299.92 C98.77,297.36 99.54,294.28 100.31,292.23 C101.08,290.18 101.85,288.77 102.62,287.62 C103.38,286.46 104.15,285.95 104.92,285.31 C105.69,284.67 106.59,284.03 107.23,283.77 C107.87,283.51 108.26,283.13 108.77,283.77 C109.28,284.41 109.67,285.69 110.31,287.62 C110.95,289.54 111.85,292.74 112.62,295.31 C113.38,297.87 114.15,300.69 114.92,303.00 C115.69,305.31 116.46,307.23 117.23,309.15 C118.00,311.08 118.77,313.00 119.54,314.54 C120.31,316.08 120.95,317.36 121.85,318.38 C122.74,319.41 123.64,320.13 124.92,320.69 C126.21,321.26 128.77,321.59 129.54,321.77" stroke="#d22b2b"/>
</g>
<g fill="none" stroke-width="1.1" stroke-linejoin="round" clip-path="url(#clip2_1)">
<path d="M156.38,321.46 C156.72,319.92 157.72,317.10 158.38,312.23 C159.05,307.36 159.74,299.41 160.38,292.23 C161.03,285.05 161.67,275.82 162.23,269.15 C162.79,262.49 163.26,256.21 163.77,252.23 C164.28,248.26 164.87,245.31 165.31,245.31 C165.74,245.31 166.00,247.49 166.38,252.23 C166.77,256.97 167.23,267.10 167.62,273.77 C168.00,280.44 168.31,287.10 168.69,292.23 C169.08,297.36 169.46,300.95 169.92,304.54 C170.38,308.13 170.82,311.33 171.46,313.77 C172.10,316.21 172.74,317.92 173.77,319.15 C174.79,320.38 175.95,320.72 177.62,321.15 C179.28,321.59 182.74,321.67 183.77,321.77" stroke="#111"/>
<path d="M157.62,321.77 C158.00,321.21 159.15,320.23 159.92,318.38 C160.69,316.54 161.46,314.03 162.23,310.69 C163.00,307.36 163.82,303.00 164.54,298.38 C165.26,293.77 165.90,287.74 166.54,283.00 C167.18,278.26 167.87,272.62 168.38,269.92 C168.90,267.23 169.23,266.72 169.62,266.85 C170.00,266.97 170.33,268.00 170.69,270.69 C171.05,273.38 171.38,278.64 171.77,283.00 C172.15,287.36 172.54,292.74 173.00,296.85 C173.46,300.95 173.97,304.67 174.54,307.62 C175.10,310.56 175.62,312.62 176.38,314.54 C177.15,316.46 177.92,318.05 179.15,319.15 C180.38,320.26 181.97,320.72 183.77,321.15 C185.56,321.59 188.90,321.67 189.92,321.77" stroke="#3ad43a"/>
<path d="M159.15,321.77 C159.79,321.33 161.72,320.23 163.00,319.15 C164.28,318.08 165.69,316.72 166.85,315.31 C168.00,313.90 169.03,312.23 169.92,310.69 C170.82,309.15 171.46,307.87 172.23,306.08 C173.00,304.28 173.77,301.97 174.54,299.92 C175.31,297.87 176.08,295.44 176.85,293.77 C177.62,292.10 178.38,290.82 179.15,289.92 C179.92,289.03 180.82,288.69 181.46,288.38 C182.10,288.08 182.49,287.95 183.00,288.08 C183.51,288.21 184.03,288.46 184.54,289.15 C185.05,289.85 185.49,290.95 186.08,292.23 C186.67,293.51 187.44,295.31 188.08,296.85 C188.72,298.38 189.23,299.67 189.92,301.46 C190.62,303.26 191.46,305.56 192.23,307.62 C193.00,309.67 193.64,312.10 194.54,313.77 C195.44,315.44 196.59,316.59 197.62,317.62 C198.64,318.64 199.41,319.28 200.69,319.92 C201.97,320.56 204.54,321.21 205.31,321.46" stroke="#d22b2b"/>
</g>
<g fill="none" stroke-width="1.1" stroke-linejoin="round" clip-path="url(#clip2_2)">
<path d="M241.08,321.46 C241.38,319.92 242.28,317.10 242.92,312.23 C243.56,307.36 244.26,299.67 244.92,292.23 C245.59,284.79 246.33,274.54 246.92,267.62 C247.51,260.69 248.00,254.49 248.46,250.69 C248.92,246.90 249.26,244.85 249.69,244.85 C250.13,244.85 250.59,247.15 251.08,250.69 C251.56,254.23 252.10,260.69 252.62,266.08 C253.13,271.46 253.56,277.62 254.15,283.00 C254.74,288.38 255.51,294.28 256.15,298.38 C256.79,302.49 257.31,304.79 258.00,307.62 C258.69,310.44 259.41,313.38 260.31,315.31 C261.21,317.23 262.23,318.18 263.38,319.15 C264.54,320.13 265.56,320.72 267.23,321.15 C268.90,321.59 272.36,321.67 273.38,321.77" stroke="#111"/>
<path d="M244.15,321.77 C244.79,321.21 246.85,319.97 248.00,318.38 C249.15,316.79 250.23,315.05 251.08,312.23 C251.92,309.41 252.49,305.82 253.08,301.46 C253.67,297.10 254.10,291.97 254.62,286.08 C255.13,280.18 255.69,271.72 256.15,266.08 C256.62,260.44 257.00,255.62 257.38,252.23 C257.77,248.85 258.10,246.03 258.46,245.77 C258.82,245.51 259.10,247.82 259.54,250.69 C259.97,253.56 260.56,258.38 261.08,263.00 C261.59,267.62 262.05,273.26 262.62,278.38 C263.18,283.51 263.82,289.15 264.46,293.77 C265.10,298.38 265.74,302.74 266.46,306.08 C267.18,309.41 267.87,311.59 268.77,313.77 C269.67,315.95 270.69,317.92 271.85,319.15 C273.00,320.38 274.15,320.72 275.69,321.15 C277.23,321.59 280.18,321.67 281.08,321.77" stroke="#3ad43a"/>
<path d="M247.23,321.77 C248.26,321.46 251.59,320.62 253.38,319.92 C255.18,319.23 256.59,318.64 258.00,317.62 C259.41,316.59 260.82,315.44 261.85,313.77 C262.87,312.10 263.46,310.18 264.15,307.62 C264.85,305.05 265.44,301.97 266.00,298.38 C266.56,294.79 267.03,290.44 267.54,286.08 C268.05,281.72 268.62,276.33 269.08,272.23 C269.54,268.13 269.92,264.03 270.31,261.46 C270.69,258.90 271.03,257.10 271.38,256.85 C271.74,256.59 272.08,257.62 272.46,259.92 C272.85,262.23 273.23,266.85 273.69,270.69 C274.15,274.54 274.64,279.15 275.23,283.00 C275.82,286.85 276.51,290.44 277.23,293.77 C277.95,297.10 278.77,300.18 279.54,303.00 C280.31,305.82 281.08,308.64 281.85,310.69 C282.62,312.74 283.26,313.90 284.15,315.31 C285.05,316.72 286.08,318.18 287.23,319.15 C288.38,320.13 289.54,320.72 291.08,321.15 C292.62,321.59 295.56,321.67 296.46,321.77" stroke="#d22b2b"/>
</g>
<g fill="none" stroke-width="1.1" stroke-linejoin="round" clip-path="url(#clip2_3)">
<path d="M325.77,321.46 C325.95,319.67 326.41,314.03 326.85,310.69 C327.28,307.36 327.87,305.05 328.38,301.46 C328.90,297.87 329.41,293.77 329.92,289.15 C330.44,284.54 330.95,278.38 331.46,273.77 C331.97,269.15 332.49,264.49 333.00,261.46 C333.51,258.44 334.15,256.77 334.54,255.62 C334.92,254.46 334.97,253.82 335.31,254.54 C335.64,255.26 336.13,256.72 336.54,259.92 C336.95,263.13 337.36,268.90 337.77,273.77 C338.18,278.64 338.59,284.54 339.00,289.15 C339.41,293.77 339.77,297.87 340.23,301.46 C340.69,305.05 341.18,308.13 341.77,310.69 C342.36,313.26 342.92,315.31 343.77,316.85 C344.62,318.38 345.56,319.15 346.85,319.92 C348.13,320.69 350.69,321.21 351.46,321.46" stroke="#111"/>
<path d="M326.85,321.77 C327.23,320.69 328.38,318.69 329.15,315.31 C329.92,311.92 330.74,307.10 331.46,301.46 C332.18,295.82 332.82,287.87 333.46,281.46 C334.10,275.05 334.69,268.13 335.31,263.00 C335.92,257.87 336.56,253.51 337.15,250.69 C337.74,247.87 338.38,246.59 338.85,246.08 C339.31,245.56 339.56,245.56 339.92,247.62 C340.28,249.67 340.64,254.03 341.00,258.38 C341.36,262.74 341.69,268.38 342.08,273.77 C342.46,279.15 342.85,285.56 343.31,290.69 C343.77,295.82 344.26,300.82 344.85,304.54 C345.44,308.26 346.00,310.69 346.85,313.00 C347.69,315.31 348.77,317.10 349.92,318.38 C351.08,319.67 352.10,320.13 353.77,320.69 C355.44,321.26 358.90,321.59 359.92,321.77" stroke="#3ad43a"/>
<path d="M329.15,321.77 C329.67,321.33 331.21,320.49 332.23,319.15 C333.26,317.82 334.28,315.56 335.31,313.77 C336.33,311.97 337.49,310.18 338.38,308.38 C339.28,306.59 339.92,305.44 340.69,303.00 C341.46,300.56 342.23,297.10 343.00,293.77 C343.77,290.44 344.59,286.08 345.31,283.00 C346.03,279.92 346.72,277.36 347.31,275.31 C347.90,273.26 348.46,271.59 348.85,270.69 C349.23,269.79 349.31,269.41 349.62,269.92 C349.92,270.44 350.31,271.59 350.69,273.77 C351.08,275.95 351.49,279.67 351.92,283.00 C352.36,286.33 352.79,290.18 353.31,293.77 C353.82,297.36 354.41,301.46 355.00,304.54 C355.59,307.62 356.15,310.05 356.85,312.23 C357.54,314.41 358.26,316.28 359.15,317.62 C360.05,318.95 360.95,319.54 362.23,320.23 C363.51,320.92 366.08,321.51 366.85,321.77" stroke="#d22b2b"/>
</g>
<g fill="none" stroke-width="1.1" stroke-linejoin="round" clip-path="url(#clip2_4)">
<path d="M411.08,321.46 C411.38,319.67 412.28,316.08 412.92,310.69 C413.56,305.31 414.33,296.59 414.92,289.15 C415.51,281.72 416.03,272.49 416.46,266.08 C416.90,259.67 417.21,254.03 417.54,250.69 C417.87,247.36 418.15,245.82 418.46,246.08 C418.77,246.33 419.03,248.13 419.38,252.23 C419.74,256.33 420.21,264.28 420.62,270.69 C421.03,277.10 421.44,285.05 421.85,290.69 C422.26,296.33 422.62,300.69 423.08,304.54 C423.54,308.38 424.05,311.46 424.62,313.77 C425.18,316.08 425.64,317.23 426.46,318.38 C427.28,319.54 428.00,320.13 429.54,320.69 C431.08,321.26 434.67,321.59 435.69,321.77" stroke="#111"/>
<path d="M411.08,321.77 C411.46,320.95 412.62,319.21 413.38,316.85 C414.15,314.49 415.00,311.46 415.69,307.62 C416.38,303.77 416.97,298.13 417.54,293.77 C418.10,289.41 418.56,284.41 419.08,281.46 C419.59,278.51 420.03,277.15 420.62,276.08 C421.21,275.00 422.03,274.74 422.62,275.00 C423.21,275.26 423.72,276.03 424.15,277.62 C424.59,279.21 424.85,281.33 425.23,284.54 C425.62,287.74 426.00,293.00 426.46,296.85 C426.92,300.69 427.36,304.54 428.00,307.62 C428.64,310.69 429.41,313.38 430.31,315.31 C431.21,317.23 432.10,318.21 433.38,319.15 C434.67,320.10 436.08,320.56 438.00,321.00 C439.92,321.44 443.77,321.64 444.92,321.77" stroke="#3ad43a"/>
<path d="M418.77,321.77 C419.28,321.33 421.03,320.49 421.85,319.15 C422.67,317.82 423.13,316.21 423.69,313.77 C424.26,311.33 424.64,307.87 425.23,304.54 C425.82,301.21 426.56,296.85 427.23,293.77 C427.90,290.69 428.59,288.13 429.23,286.08 C429.87,284.03 430.51,282.49 431.08,281.46 C431.64,280.44 432.10,279.79 432.62,279.92 C433.13,280.05 433.64,281.33 434.15,282.23 C434.67,283.13 435.18,283.90 435.69,285.31 C436.21,286.72 436.72,288.77 437.23,290.69 C437.74,292.62 438.21,294.79 438.77,296.85 C439.33,298.90 439.97,300.95 440.62,303.00 C441.26,305.05 441.90,307.23 442.62,309.15 C443.33,311.08 444.03,313.00 444.92,314.54 C445.82,316.08 446.85,317.36 448.00,318.38 C449.15,319.41 450.31,320.13 451.85,320.69 C453.38,321.26 456.33,321.59 457.23,321.77" stroke="#d22b2b"/>
</g>
<g fill="none" stroke-width="1.1" stroke-linejoin="round" clip-path="url(#clip3_0)">
<path d="M70.77,441.46 C71.03,439.41 71.79,434.54 72.31,429.15 C72.82,423.77 73.33,416.08 73.85,409.15 C74.36,402.23 74.92,394.03 75.38,387.62 C75.85,381.21 76.23,374.49 76.62,370.69 C77.00,366.90 77.33,365.10 77.69,364.85 C78.05,364.59 78.38,365.36 78.77,369.15 C79.15,372.95 79.59,380.95 80.00,387.62 C80.41,394.28 80.79,403.00 81.23,409.15 C81.67,415.31 82.13,420.56 82.62,424.54 C83.10,428.51 83.51,430.82 84.15,433.00 C84.79,435.18 85.56,436.46 86.46,437.62 C87.36,438.77 88.26,439.33 89.54,439.92 C90.82,440.51 92.36,440.85 94.15,441.15 C95.95,441.46 99.28,441.67 100.31,441.77" stroke="#111"/>
<path d="M75.69,441.77 C76.33,441.33 78.46,440.74 79.54,439.15 C80.62,437.56 81.38,435.44 82.15,432.23 C82.92,429.03 83.56,424.54 84.15,419.92 C84.74,415.31 85.18,409.41 85.69,404.54 C86.21,399.67 86.77,394.03 87.23,390.69 C87.69,387.36 88.08,385.31 88.46,384.54 C88.85,383.77 89.15,384.54 89.54,386.08 C89.92,387.62 90.33,390.95 90.77,393.77 C91.21,396.59 91.72,399.92 92.15,403.00 C92.59,406.08 92.92,408.90 93.38,412.23 C93.85,415.56 94.33,419.92 94.92,423.00 C95.51,426.08 96.15,428.38 96.92,430.69 C97.69,433.00 98.59,435.31 99.54,436.85 C100.49,438.38 101.46,439.15 102.62,439.92 C103.77,440.69 105.82,441.21 106.46,441.46" stroke="#3ad43a"/>
<path d="M75.69,441.77 C76.33,441.33 78.38,440.49 79.54,439.15 C80.69,437.82 81.77,436.21 82.62,433.77 C83.46,431.33 83.97,428.13 84.62,424.54 C85.26,420.95 85.90,416.33 86.46,412.23 C87.03,408.13 87.49,403.26 88.00,399.92 C88.51,396.59 89.08,394.03 89.54,392.23 C90.00,390.44 90.38,389.15 90.77,389.15 C91.15,389.15 91.49,390.44 91.85,392.23 C92.21,394.03 92.54,397.36 92.92,399.92 C93.31,402.49 93.69,405.05 94.15,407.62 C94.62,410.18 95.13,412.49 95.69,415.31 C96.26,418.13 96.90,421.72 97.54,424.54 C98.18,427.36 98.82,430.05 99.54,432.23 C100.26,434.41 100.95,436.21 101.85,437.62 C102.74,439.03 103.64,440.00 104.92,440.69 C106.21,441.38 108.77,441.59 109.54,441.77" stroke="#d22b2b"/>
</g>
<g fill="none" stroke-width="1.1" stroke-linejoin="round" clip-path="url(#clip3_1)">
<path d="M155.77,441.46 C156.08,439.92 157.00,437.10 157.62,432.23 C158.23,427.36 158.90,419.15 159.46,412.23 C160.03,405.31 160.49,397.36 161.00,390.69 C161.51,384.03 162.08,376.46 162.54,372.23 C163.00,368.00 163.36,365.82 163.77,365.31 C164.18,364.79 164.54,366.21 165.00,369.15 C165.46,372.10 166.05,378.38 166.54,383.00 C167.03,387.62 167.49,392.23 167.92,396.85 C168.36,401.46 168.69,406.59 169.15,410.69 C169.62,414.79 170.18,418.38 170.69,421.46 C171.21,424.54 171.59,427.23 172.23,429.15 C172.87,431.08 173.64,432.10 174.54,433.00 C175.44,433.90 176.59,434.36 177.62,434.54 C178.64,434.72 179.67,434.33 180.69,434.08 C181.72,433.82 182.87,433.10 183.77,433.00 C184.67,432.90 185.31,433.21 186.08,433.46 C186.85,433.72 187.62,433.97 188.38,434.54 C189.15,435.10 189.79,436.08 190.69,436.85 C191.59,437.62 192.62,438.51 193.77,439.15 C194.92,439.79 196.21,440.26 197.62,440.69 C199.03,441.13 201.46,441.59 202.23,441.77" stroke="#111"/>
<path d="M162.23,441.77 C163.00,441.21 165.56,439.72 166.85,438.38 C168.13,437.05 169.10,436.59 169.92,433.77 C170.74,430.95 171.21,425.82 171.77,421.46 C172.33,417.10 172.79,412.23 173.31,407.62 C173.82,403.00 174.38,397.36 174.85,393.77 C175.31,390.18 175.72,387.62 176.08,386.08 C176.44,384.54 176.69,384.28 177.00,384.54 C177.31,384.79 177.56,386.08 177.92,387.62 C178.28,389.15 178.69,391.46 179.15,393.77 C179.62,396.08 180.13,398.90 180.69,401.46 C181.26,404.03 181.90,406.59 182.54,409.15 C183.18,411.72 183.82,414.54 184.54,416.85 C185.26,419.15 186.08,420.95 186.85,423.00 C187.62,425.05 188.26,427.23 189.15,429.15 C190.05,431.08 191.21,433.00 192.23,434.54 C193.26,436.08 194.15,437.36 195.31,438.38 C196.46,439.41 197.49,440.13 199.15,440.69 C200.82,441.26 204.28,441.59 205.31,441.77" stroke="#3ad43a"/>
<path d="M162.23,441.77 C163.00,441.59 165.31,441.26 166.85,440.69 C168.38,440.13 169.92,439.28 171.46,438.38 C173.00,437.49 174.67,436.59 176.08,435.31 C177.49,434.03 178.77,432.49 179.92,430.69 C181.08,428.90 182.10,427.10 183.00,424.54 C183.90,421.97 184.62,418.38 185.31,415.31 C186.00,412.23 186.51,408.90 187.15,406.08 C187.79,403.26 188.56,400.18 189.15,398.38 C189.74,396.59 190.10,395.95 190.69,395.31 C191.28,394.67 192.10,394.92 192.69,394.54 C193.28,394.15 193.77,392.74 194.23,393.00 C194.69,393.26 195.03,394.41 195.46,396.08 C195.90,397.74 196.36,400.56 196.85,403.00 C197.33,405.44 197.87,408.13 198.38,410.69 C198.90,413.26 199.28,415.82 199.92,418.38 C200.56,420.95 201.46,423.51 202.23,426.08 C203.00,428.64 203.77,431.72 204.54,433.77 C205.31,435.82 205.95,437.23 206.85,438.38 C207.74,439.54 208.64,440.13 209.92,440.69 C211.21,441.26 213.77,441.59 214.54,441.77" stroke="#d22b2b"/>
</g>
<g fill="none" stroke-width="1.1" stroke-linejoin="round" clip-path="url(#clip3_2)">
<path d="M240.77,441.46 C240.95,439.67 241.41,434.54 241.85,430.69 C242.28,426.85 242.87,423.26 243.38,418.38 C243.90,413.51 244.41,407.36 244.92,401.46 C245.44,395.56 246.00,388.38 246.46,383.00 C246.92,377.62 247.36,372.03 247.69,369.15 C248.03,366.28 248.15,365.51 248.46,365.77 C248.77,366.03 249.18,367.31 249.54,370.69 C249.90,374.08 250.23,380.69 250.62,386.08 C251.00,391.46 251.44,397.87 251.85,403.00 C252.26,408.13 252.62,412.74 253.08,416.85 C253.54,420.95 254.05,424.79 254.62,427.62 C255.18,430.44 255.77,432.23 256.46,433.77 C257.15,435.31 257.87,435.95 258.77,436.85 C259.67,437.74 260.69,438.51 261.85,439.15 C263.00,439.79 264.03,440.26 265.69,440.69 C267.36,441.13 270.82,441.59 271.85,441.77" stroke="#111"/>
<path d="M245.69,441.77 C246.33,441.33 248.46,440.74 249.54,439.15 C250.62,437.56 251.46,435.44 252.15,432.23 C252.85,429.03 253.18,424.54 253.69,419.92 C254.21,415.31 254.72,409.41 255.23,404.54 C255.74,399.67 256.31,394.03 256.77,390.69 C257.23,387.36 257.62,385.31 258.00,384.54 C258.38,383.77 258.69,384.03 259.08,386.08 C259.46,388.13 259.92,393.00 260.31,396.85 C260.69,400.69 261.00,405.31 261.38,409.15 C261.77,413.00 262.15,416.85 262.62,419.92 C263.08,423.00 263.51,425.18 264.15,427.62 C264.79,430.05 265.56,432.74 266.46,434.54 C267.36,436.33 268.38,437.36 269.54,438.38 C270.69,439.41 271.72,440.13 273.38,440.69 C275.05,441.26 278.51,441.59 279.54,441.77" stroke="#3ad43a"/>
<path d="M245.69,441.77 C246.46,441.46 248.90,440.87 250.31,439.92 C251.72,438.97 253.00,437.62 254.15,436.08 C255.31,434.54 256.33,432.62 257.23,430.69 C258.13,428.77 258.77,426.59 259.54,424.54 C260.31,422.49 261.13,420.31 261.85,418.38 C262.56,416.46 263.21,414.28 263.85,413.00 C264.49,411.72 265.08,411.21 265.69,410.69 C266.31,410.18 267.08,410.56 267.54,409.92 C268.00,409.28 268.13,406.72 268.46,406.85 C268.79,406.97 269.10,409.54 269.54,410.69 C269.97,411.85 270.49,412.49 271.08,413.77 C271.67,415.05 272.38,416.85 273.08,418.38 C273.77,419.92 274.46,421.46 275.23,423.00 C276.00,424.54 276.85,426.08 277.69,427.62 C278.54,429.15 279.36,430.69 280.31,432.23 C281.26,433.77 282.36,435.62 283.38,436.85 C284.41,438.08 285.31,438.90 286.46,439.62 C287.62,440.33 288.64,440.79 290.31,441.15 C291.97,441.51 295.44,441.67 296.46,441.77" stroke="#d22b2b"/>
</g>
<g fill="none" stroke-width="1.1" stroke-linejoin="round" clip-path="url(#clip3_3)">
<path d="M325.77,441.46 C326.08,439.67 327.00,435.82 327.62,430.69 C328.23,425.56 328.90,417.62 329.46,410.69 C330.03,403.77 330.49,395.69 331.00,389.15 C331.51,382.62 332.08,375.51 332.54,371.46 C333.00,367.41 333.38,365.10 333.77,364.85 C334.15,364.59 334.46,366.64 334.85,369.92 C335.23,373.21 335.62,379.28 336.08,384.54 C336.54,389.79 337.10,396.33 337.62,401.46 C338.13,406.59 338.64,411.46 339.15,415.31 C339.67,419.15 340.10,421.72 340.69,424.54 C341.28,427.36 342.00,430.18 342.69,432.23 C343.38,434.28 344.03,435.56 344.85,436.85 C345.67,438.13 346.38,439.15 347.62,439.92 C348.85,440.69 351.46,441.21 352.23,441.46" stroke="#111"/>
<path d="M332.23,441.77 C332.87,441.33 335.05,440.74 336.08,439.15 C337.10,437.56 337.69,435.44 338.38,432.23 C339.08,429.03 339.67,424.54 340.23,419.92 C340.79,415.31 341.26,409.41 341.77,404.54 C342.28,399.67 342.85,394.03 343.31,390.69 C343.77,387.36 344.18,385.87 344.54,384.54 C344.90,383.21 345.15,382.44 345.46,382.69 C345.77,382.95 346.03,383.97 346.38,386.08 C346.74,388.18 347.15,391.72 347.62,395.31 C348.08,398.90 348.59,403.77 349.15,407.62 C349.72,411.46 350.36,415.05 351.00,418.38 C351.64,421.72 352.28,425.05 353.00,427.62 C353.72,430.18 354.41,431.97 355.31,433.77 C356.21,435.56 357.23,437.23 358.38,438.38 C359.54,439.54 360.69,440.13 362.23,440.69 C363.77,441.26 366.72,441.59 367.62,441.77" stroke="#3ad43a"/>
<path d="M333.77,441.77 C334.54,441.33 336.97,440.23 338.38,439.15 C339.79,438.08 341.08,436.97 342.23,435.31 C343.38,433.64 344.41,431.46 345.31,429.15 C346.21,426.85 346.85,424.03 347.62,421.46 C348.38,418.90 349.21,416.08 349.92,413.77 C350.64,411.46 351.33,409.28 351.92,407.62 C352.51,405.95 352.95,404.54 353.46,403.77 C353.97,403.00 354.56,403.00 355.00,403.00 C355.44,403.00 355.64,403.00 356.08,403.77 C356.51,404.54 357.10,406.21 357.62,407.62 C358.13,409.03 358.56,410.18 359.15,412.23 C359.74,414.28 360.51,417.62 361.15,419.92 C361.79,422.23 362.31,424.03 363.00,426.08 C363.69,428.13 364.49,430.44 365.31,432.23 C366.13,434.03 367.03,435.56 367.92,436.85 C368.82,438.13 369.46,439.15 370.69,439.92 C371.92,440.69 374.54,441.21 375.31,441.46" stroke="#d22b2b"/>
</g>
<g fill="none" stroke-width="1.1" stroke-linejoin="round" clip-path="url(#clip3_4)">
<path d="M410.77,441.46 C411.03,440.18 411.74,438.13 412.31,433.77 C412.87,429.41 413.59,421.97 414.15,415.31 C414.72,408.64 415.18,400.69 415.69,393.77 C416.21,386.85 416.77,378.51 417.23,373.77 C417.69,369.03 418.08,366.08 418.46,365.31 C418.85,364.54 419.18,365.95 419.54,369.15 C419.90,372.36 420.23,378.90 420.62,384.54 C421.00,390.18 421.44,397.36 421.85,403.00 C422.26,408.64 422.67,414.03 423.08,418.38 C423.49,422.74 423.79,426.08 424.31,429.15 C424.82,432.23 425.41,435.05 426.15,436.85 C426.90,438.64 427.69,439.21 428.77,439.92 C429.85,440.64 430.95,440.85 432.62,441.15 C434.28,441.46 437.74,441.67 438.77,441.77" stroke="#111"/>
<path d="M415.69,441.77 C416.33,441.33 418.46,440.49 419.54,439.15 C420.62,437.82 421.46,436.72 422.15,433.77 C422.85,430.82 423.23,426.33 423.69,421.46 C424.15,416.59 424.54,410.44 424.92,404.54 C425.31,398.64 425.67,390.56 426.00,386.08 C426.33,381.59 426.64,379.28 426.92,377.62 C427.21,375.95 427.41,375.95 427.69,376.08 C427.97,376.21 428.31,376.46 428.62,378.38 C428.92,380.31 429.18,383.77 429.54,387.62 C429.90,391.46 430.36,397.10 430.77,401.46 C431.18,405.82 431.54,409.92 432.00,413.77 C432.46,417.62 432.92,421.46 433.54,424.54 C434.15,427.62 434.82,430.05 435.69,432.23 C436.56,434.41 437.62,436.21 438.77,437.62 C439.92,439.03 441.08,440.00 442.62,440.69 C444.15,441.38 447.10,441.59 448.00,441.77" stroke="#3ad43a"/>
<path d="M415.69,441.77 C416.46,441.46 419.03,441.00 420.31,439.92 C421.59,438.85 422.56,437.62 423.38,435.31 C424.21,433.00 424.67,429.92 425.23,426.08 C425.79,422.23 426.26,417.10 426.77,412.23 C427.28,407.36 427.85,401.21 428.31,396.85 C428.77,392.49 429.15,388.69 429.54,386.08 C429.92,383.46 430.28,381.41 430.62,381.15 C430.95,380.90 431.21,382.44 431.54,384.54 C431.87,386.64 432.23,390.18 432.62,393.77 C433.00,397.36 433.38,402.23 433.85,406.08 C434.31,409.92 434.82,413.51 435.38,416.85 C435.95,420.18 436.54,423.38 437.23,426.08 C437.92,428.77 438.64,430.95 439.54,433.00 C440.44,435.05 441.46,437.03 442.62,438.38 C443.77,439.74 445.05,440.59 446.46,441.15 C447.87,441.72 450.31,441.67 451.08,441.77" stroke="#d22b2b"/>
</g>
<g fill="none" stroke-width="1.1" stroke-linejoin="round" clip-path="url(#clip4_0)">
<path d="M70.31,529.46 C70.56,527.41 71.33,522.79 71.85,517.15 C72.36,511.51 72.87,503.05 73.38,495.62 C73.90,488.18 74.49,478.69 74.92,472.54 C75.36,466.38 75.67,461.90 76.00,458.69 C76.33,455.49 76.59,453.31 76.92,453.31 C77.26,453.31 77.64,455.23 78.00,458.69 C78.36,462.15 78.69,468.18 79.08,474.08 C79.46,479.97 79.90,488.18 80.31,494.08 C80.72,499.97 81.08,505.10 81.54,509.46 C82.00,513.82 82.46,517.54 83.08,520.23 C83.69,522.92 84.41,524.33 85.23,525.62 C86.05,526.90 86.77,527.33 88.00,527.92 C89.23,528.51 90.82,528.85 92.62,529.15 C94.41,529.46 97.74,529.67 98.77,529.77" stroke="#111"/>
<path d="M74.15,529.77 C74.67,529.33 76.33,528.74 77.23,527.15 C78.13,525.56 78.82,523.44 79.54,520.23 C80.26,517.03 80.90,512.79 81.54,507.92 C82.18,503.05 82.77,496.38 83.38,491.00 C84.00,485.62 84.72,479.46 85.23,475.62 C85.74,471.77 86.13,469.46 86.46,467.92 C86.79,466.38 86.92,465.87 87.23,466.38 C87.54,466.90 87.92,468.69 88.31,471.00 C88.69,473.31 89.08,476.64 89.54,480.23 C90.00,483.82 90.56,488.18 91.08,492.54 C91.59,496.90 92.05,502.28 92.62,506.38 C93.18,510.49 93.74,514.21 94.46,517.15 C95.18,520.10 95.95,522.28 96.92,524.08 C97.90,525.87 98.97,527.03 100.31,527.92 C101.64,528.82 104.15,529.21 104.92,529.46" stroke="#3ad43a"/>
<path d="M77.23,529.77 C77.87,529.33 80.05,528.49 81.08,527.15 C82.10,525.82 82.69,524.21 83.38,521.77 C84.08,519.33 84.59,516.13 85.23,512.54 C85.87,508.95 86.56,503.82 87.23,500.23 C87.90,496.64 88.64,493.56 89.23,491.00 C89.82,488.44 90.38,486.08 90.77,484.85 C91.15,483.62 91.23,483.10 91.54,483.62 C91.85,484.13 92.18,486.18 92.62,487.92 C93.05,489.67 93.59,491.77 94.15,494.08 C94.72,496.38 95.36,499.21 96.00,501.77 C96.64,504.33 97.28,507.15 98.00,509.46 C98.72,511.77 99.54,513.56 100.31,515.62 C101.08,517.67 101.72,519.97 102.62,521.77 C103.51,523.56 104.67,525.23 105.69,526.38 C106.72,527.54 107.62,528.13 108.77,528.69 C109.92,529.26 111.97,529.59 112.62,529.77" stroke="#d22b2b"/>
</g>
<g fill="none" stroke-width="1.1" stroke-linejoin="round" clip-path="url(#clip4_1)">
<path d="M155.31,529.46 C155.56,527.67 156.26,524.08 156.85,518.69 C157.44,513.31 158.21,504.59 158.85,497.15 C159.49,489.72 160.13,480.49 160.69,474.08 C161.26,467.67 161.79,462.23 162.23,458.69 C162.67,455.15 162.92,453.10 163.31,452.85 C163.69,452.59 164.08,454.38 164.54,457.15 C165.00,459.92 165.62,465.87 166.08,469.46 C166.54,473.05 166.92,474.59 167.31,478.69 C167.69,482.79 168.00,489.21 168.38,494.08 C168.77,498.95 169.15,504.33 169.62,507.92 C170.08,511.51 170.59,513.44 171.15,515.62 C171.72,517.79 172.31,519.77 173.00,521.00 C173.69,522.23 174.41,522.62 175.31,523.00 C176.21,523.38 177.36,523.38 178.38,523.31 C179.41,523.23 180.44,522.79 181.46,522.54 C182.49,522.28 183.64,521.77 184.54,521.77 C185.44,521.77 186.08,522.15 186.85,522.54 C187.62,522.92 188.38,523.44 189.15,524.08 C189.92,524.72 190.56,525.69 191.46,526.38 C192.36,527.08 193.26,527.72 194.54,528.23 C195.82,528.74 198.38,529.26 199.15,529.46" stroke="#111"/>
<path d="M160.69,529.77 C161.33,529.33 163.46,528.49 164.54,527.15 C165.62,525.82 166.44,524.72 167.15,521.77 C167.87,518.82 168.26,514.08 168.85,509.46 C169.44,504.85 170.13,498.69 170.69,494.08 C171.26,489.46 171.72,485.36 172.23,481.77 C172.74,478.18 173.31,474.72 173.77,472.54 C174.23,470.36 174.62,468.95 175.00,468.69 C175.38,468.44 175.64,469.33 176.08,471.00 C176.51,472.67 177.05,475.62 177.62,478.69 C178.18,481.77 178.82,485.87 179.46,489.46 C180.10,493.05 180.79,497.15 181.46,500.23 C182.13,503.31 182.77,505.62 183.46,507.92 C184.15,510.23 184.85,512.28 185.62,514.08 C186.38,515.87 187.23,517.15 188.08,518.69 C188.92,520.23 189.74,521.90 190.69,523.31 C191.64,524.72 192.62,526.21 193.77,527.15 C194.92,528.10 195.95,528.56 197.62,529.00 C199.28,529.44 202.74,529.64 203.77,529.77" stroke="#3ad43a"/>
<path d="M160.69,529.77 C161.46,529.46 163.77,528.62 165.31,527.92 C166.85,527.23 168.38,526.38 169.92,525.62 C171.46,524.85 173.13,524.21 174.54,523.31 C175.95,522.41 177.23,521.51 178.38,520.23 C179.54,518.95 180.62,517.67 181.46,515.62 C182.31,513.56 182.82,511.00 183.46,507.92 C184.10,504.85 184.69,500.49 185.31,497.15 C185.92,493.82 186.59,491.00 187.15,487.92 C187.72,484.85 188.28,480.74 188.69,478.69 C189.10,476.64 189.21,476.00 189.62,475.62 C190.03,475.23 190.64,476.13 191.15,476.38 C191.67,476.64 192.18,476.64 192.69,477.15 C193.21,477.67 193.77,477.92 194.23,479.46 C194.69,481.00 195.03,483.69 195.46,486.38 C195.90,489.08 196.36,493.05 196.85,495.62 C197.33,498.18 197.87,499.46 198.38,501.77 C198.90,504.08 199.33,506.90 199.92,509.46 C200.51,512.03 201.15,514.85 201.92,517.15 C202.69,519.46 203.67,521.64 204.54,523.31 C205.41,524.97 206.13,526.18 207.15,527.15 C208.18,528.13 209.46,528.72 210.69,529.15 C211.92,529.59 213.90,529.67 214.54,529.77" stroke="#d22b2b"/>
</g>
<g fill="none" stroke-width="1.1" stroke-linejoin="round" clip-path="url(#clip4_2)">
<path d="M240.77,529.46 C240.95,527.67 241.41,522.54 241.85,518.69 C242.28,514.85 242.87,511.51 243.38,506.38 C243.90,501.26 244.41,494.08 244.92,487.92 C245.44,481.77 246.00,474.59 246.46,469.46 C246.92,464.33 247.31,459.92 247.69,457.15 C248.08,454.38 248.41,452.85 248.77,452.85 C249.13,452.85 249.46,453.87 249.85,457.15 C250.23,460.44 250.67,466.90 251.08,472.54 C251.49,478.18 251.92,485.62 252.31,491.00 C252.69,496.38 252.95,500.74 253.38,504.85 C253.82,508.95 254.36,512.79 254.92,515.62 C255.49,518.44 256.00,520.23 256.77,521.77 C257.54,523.31 258.56,523.95 259.54,524.85 C260.51,525.74 261.46,526.51 262.62,527.15 C263.77,527.79 264.92,528.26 266.46,528.69 C268.00,529.13 270.95,529.59 271.85,529.77" stroke="#111"/>
<path d="M245.69,529.77 C246.33,529.33 248.51,528.74 249.54,527.15 C250.56,525.56 251.21,523.18 251.85,520.23 C252.49,517.28 252.87,513.82 253.38,509.46 C253.90,505.10 254.41,499.46 254.92,494.08 C255.44,488.69 256.00,481.77 256.46,477.15 C256.92,472.54 257.31,468.74 257.69,466.38 C258.08,464.03 258.41,462.74 258.77,463.00 C259.13,463.26 259.46,465.31 259.85,467.92 C260.23,470.54 260.67,474.85 261.08,478.69 C261.49,482.54 261.90,486.90 262.31,491.00 C262.72,495.10 263.10,499.72 263.54,503.31 C263.97,506.90 264.36,509.72 264.92,512.54 C265.49,515.36 266.15,518.05 266.92,520.23 C267.69,522.41 268.46,524.26 269.54,525.62 C270.62,526.97 271.72,527.69 273.38,528.38 C275.05,529.08 278.51,529.54 279.54,529.77" stroke="#3ad43a"/>
<path d="M247.23,529.77 C248.00,529.46 250.56,528.87 251.85,527.92 C253.13,526.97 254.03,525.62 254.92,524.08 C255.82,522.54 256.46,520.62 257.23,518.69 C258.00,516.77 258.77,514.85 259.54,512.54 C260.31,510.23 261.08,507.28 261.85,504.85 C262.62,502.41 263.38,499.59 264.15,497.92 C264.92,496.26 265.82,495.49 266.46,494.85 C267.10,494.21 267.49,494.08 268.00,494.08 C268.51,494.08 269.03,494.33 269.54,494.85 C270.05,495.36 270.49,496.00 271.08,497.15 C271.67,498.31 272.38,500.23 273.08,501.77 C273.77,503.31 274.46,504.72 275.23,506.38 C276.00,508.05 276.85,509.97 277.69,511.77 C278.54,513.56 279.36,515.36 280.31,517.15 C281.26,518.95 282.36,521.00 283.38,522.54 C284.41,524.08 285.31,525.36 286.46,526.38 C287.62,527.41 288.64,528.13 290.31,528.69 C291.97,529.26 295.44,529.59 296.46,529.77" stroke="#d22b2b"/>
</g>
<g fill="none" stroke-width="1.1" stroke-linejoin="round" clip-path="url(#clip4_3)">
<path d="M325.77,529.46 C326.08,527.92 327.00,524.85 327.62,520.23 C328.23,515.62 328.90,508.44 329.46,501.77 C330.03,495.10 330.49,486.90 331.00,480.23 C331.51,473.56 332.08,466.18 332.54,461.77 C333.00,457.36 333.38,454.54 333.77,453.77 C334.15,453.00 334.46,454.28 334.85,457.15 C335.23,460.03 335.62,465.87 336.08,471.00 C336.54,476.13 337.10,482.79 337.62,487.92 C338.13,493.05 338.64,497.67 339.15,501.77 C339.67,505.87 340.10,509.46 340.69,512.54 C341.28,515.62 342.00,518.18 342.69,520.23 C343.38,522.28 344.03,523.56 344.85,524.85 C345.67,526.13 346.38,527.15 347.62,527.92 C348.85,528.69 351.46,529.21 352.23,529.46" stroke="#111"/>
<path d="M332.23,529.77 C332.87,529.33 335.05,528.49 336.08,527.15 C337.10,525.82 337.69,524.46 338.38,521.77 C339.08,519.08 339.67,515.10 340.23,511.00 C340.79,506.90 341.26,502.03 341.77,497.15 C342.28,492.28 342.79,486.38 343.31,481.77 C343.82,477.15 344.38,472.08 344.85,469.46 C345.31,466.85 345.69,465.82 346.08,466.08 C346.46,466.33 346.77,468.38 347.15,471.00 C347.54,473.62 347.92,477.92 348.38,481.77 C348.85,485.62 349.41,490.23 349.92,494.08 C350.44,497.92 350.87,501.51 351.46,504.85 C352.05,508.18 352.69,511.26 353.46,514.08 C354.23,516.90 355.13,519.72 356.08,521.77 C357.03,523.82 358.00,525.23 359.15,526.38 C360.31,527.54 361.59,528.13 363.00,528.69 C364.41,529.26 366.85,529.59 367.62,529.77" stroke="#3ad43a"/>
<path d="M333.77,529.77 C334.54,529.46 336.97,528.74 338.38,527.92 C339.79,527.10 341.08,526.13 342.23,524.85 C343.38,523.56 344.41,522.03 345.31,520.23 C346.21,518.44 346.92,516.38 347.62,514.08 C348.31,511.77 348.82,508.95 349.46,506.38 C350.10,503.82 350.87,500.74 351.46,498.69 C352.05,496.64 352.54,495.49 353.00,494.08 C353.46,492.67 353.90,491.05 354.23,490.23 C354.56,489.41 354.69,488.90 355.00,489.15 C355.31,489.41 355.64,491.21 356.08,491.77 C356.51,492.33 357.10,491.90 357.62,492.54 C358.13,493.18 358.56,493.82 359.15,495.62 C359.74,497.41 360.51,500.74 361.15,503.31 C361.79,505.87 362.31,508.44 363.00,511.00 C363.69,513.56 364.54,516.51 365.31,518.69 C366.08,520.87 366.72,522.67 367.62,524.08 C368.51,525.49 369.54,526.31 370.69,527.15 C371.85,528.00 373.00,528.72 374.54,529.15 C376.08,529.59 379.03,529.67 379.92,529.77" stroke="#d22b2b"/>
</g>
<g fill="none" stroke-width="1.1" stroke-linejoin="round" clip-path="url(#clip4_4)">
<path d="M410.77,529.46 C411.08,527.67 412.05,523.56 412.62,518.69 C413.18,513.82 413.64,506.90 414.15,500.23 C414.67,493.56 415.18,485.36 415.69,478.69 C416.21,472.03 416.77,464.46 417.23,460.23 C417.69,456.00 418.08,453.82 418.46,453.31 C418.85,452.79 419.18,453.95 419.54,457.15 C419.90,460.36 420.23,466.38 420.62,472.54 C421.00,478.69 421.44,487.67 421.85,494.08 C422.26,500.49 422.67,506.38 423.08,511.00 C423.49,515.62 423.79,519.08 424.31,521.77 C424.82,524.46 425.28,525.92 426.15,527.15 C427.03,528.38 427.95,528.72 429.54,529.15 C431.13,529.59 434.67,529.67 435.69,529.77" stroke="#111"/>
<path d="M417.23,529.77 C417.69,529.21 419.23,528.74 420.00,526.38 C420.77,524.03 421.28,520.49 421.85,515.62 C422.41,510.74 422.92,503.31 423.38,497.15 C423.85,491.00 424.23,484.33 424.62,478.69 C425.00,473.05 425.33,467.28 425.69,463.31 C426.05,459.33 426.44,455.87 426.77,454.85 C427.10,453.82 427.36,454.72 427.69,457.15 C428.03,459.59 428.41,464.85 428.77,469.46 C429.13,474.08 429.46,479.97 429.85,484.85 C430.23,489.72 430.62,494.33 431.08,498.69 C431.54,503.05 432.05,507.41 432.62,511.00 C433.18,514.59 433.74,517.67 434.46,520.23 C435.18,522.79 435.95,524.92 436.92,526.38 C437.90,527.85 438.97,528.44 440.31,529.00 C441.64,529.56 444.15,529.64 444.92,529.77" stroke="#3ad43a"/>
<path d="M418.77,529.77 C419.41,529.46 421.59,529.26 422.62,527.92 C423.64,526.59 424.23,524.59 424.92,521.77 C425.62,518.95 426.21,515.10 426.77,511.00 C427.33,506.90 427.79,501.51 428.31,497.15 C428.82,492.79 429.38,488.18 429.85,484.85 C430.31,481.51 430.74,478.74 431.08,477.15 C431.41,475.56 431.54,475.05 431.85,475.31 C432.15,475.56 432.54,476.59 432.92,478.69 C433.31,480.79 433.74,485.10 434.15,487.92 C434.56,490.74 434.92,492.79 435.38,495.62 C435.85,498.44 436.36,501.77 436.92,504.85 C437.49,507.92 438.08,511.26 438.77,514.08 C439.46,516.90 440.26,519.67 441.08,521.77 C441.90,523.87 442.79,525.49 443.69,526.69 C444.59,527.90 445.23,528.49 446.46,529.00 C447.69,529.51 450.31,529.64 451.08,529.77" stroke="#d22b2b"/>
</g>
<g fill="none" stroke-width="1.1" stroke-linejoin="round" clip-path="url(#clip5_0)">
<path d="M70.31,617.46 C70.49,616.18 71.00,613.36 71.38,609.77 C71.77,606.18 72.21,601.31 72.62,595.92 C73.03,590.54 73.46,583.10 73.85,577.46 C74.23,571.82 74.56,566.95 74.92,562.08 C75.28,557.21 75.67,551.51 76.00,548.23 C76.33,544.95 76.62,542.38 76.92,542.38 C77.23,542.38 77.54,544.95 77.85,548.23 C78.15,551.51 78.41,556.69 78.77,562.08 C79.13,567.46 79.59,574.90 80.00,580.54 C80.41,586.18 80.82,591.82 81.23,595.92 C81.64,600.03 81.97,602.59 82.46,605.15 C82.95,607.72 83.49,609.77 84.15,611.31 C84.82,612.85 85.56,613.62 86.46,614.38 C87.36,615.15 88.26,615.46 89.54,615.92 C90.82,616.38 92.36,616.85 94.15,617.15 C95.95,617.46 99.28,617.67 100.31,617.77" stroke="#111"/>
<path d="M70.31,617.77 C70.56,616.69 71.33,614.69 71.85,611.31 C72.36,607.92 72.87,602.85 73.38,597.46 C73.90,592.08 74.41,584.64 74.92,579.00 C75.44,573.36 75.95,567.21 76.46,563.62 C76.97,560.03 77.62,558.74 78.00,557.46 C78.38,556.18 78.44,555.15 78.77,555.92 C79.10,556.69 79.54,559.26 80.00,562.08 C80.46,564.90 81.03,569.00 81.54,572.85 C82.05,576.69 82.56,581.05 83.08,585.15 C83.59,589.26 84.05,593.87 84.62,597.46 C85.18,601.05 85.77,604.38 86.46,606.69 C87.15,609.00 88.00,610.15 88.77,611.31 C89.54,612.46 90.18,612.97 91.08,613.62 C91.97,614.26 92.87,614.69 94.15,615.15 C95.44,615.62 96.97,616.00 98.77,616.38 C100.56,616.77 102.87,617.23 104.92,617.46 C106.97,617.69 110.05,617.72 111.08,617.77" stroke="#3ad43a"/>
<path d="M74.15,617.77 C74.54,617.33 75.69,616.74 76.46,615.15 C77.23,613.56 78.00,611.69 78.77,608.23 C79.54,604.77 80.31,599.00 81.08,594.38 C81.85,589.77 82.69,584.26 83.38,580.54 C84.08,576.82 84.67,573.87 85.23,572.08 C85.79,570.28 86.31,570.03 86.77,569.77 C87.23,569.51 87.59,569.77 88.00,570.54 C88.41,571.31 88.77,572.21 89.23,574.38 C89.69,576.56 90.26,580.28 90.77,583.62 C91.28,586.95 91.79,591.05 92.31,594.38 C92.82,597.72 93.28,600.92 93.85,603.62 C94.41,606.31 95.00,608.62 95.69,610.54 C96.38,612.46 97.10,614.08 98.00,615.15 C98.90,616.23 99.67,616.56 101.08,617.00 C102.49,617.44 105.56,617.64 106.46,617.77" stroke="#d22b2b"/>
</g>
<g fill="none" stroke-width="1.1" stroke-linejoin="round" clip-path="url(#clip5_1)">
<path d="M155.31,617.46 C155.56,615.67 156.26,612.08 156.85,606.69 C157.44,601.31 158.21,592.59 158.85,585.15 C159.49,577.72 160.18,568.49 160.69,562.08 C161.21,555.67 161.54,550.23 161.92,546.69 C162.31,543.15 162.64,541.36 163.00,540.85 C163.36,540.33 163.64,541.36 164.08,543.62 C164.51,545.87 165.15,550.79 165.62,554.38 C166.08,557.97 166.44,561.05 166.85,565.15 C167.26,569.26 167.67,574.38 168.08,579.00 C168.49,583.62 168.87,589.00 169.31,592.85 C169.74,596.69 170.21,599.77 170.69,602.08 C171.18,604.38 171.59,605.41 172.23,606.69 C172.87,607.97 173.64,609.13 174.54,609.77 C175.44,610.41 176.59,610.54 177.62,610.54 C178.64,610.54 179.67,610.03 180.69,609.77 C181.72,609.51 182.87,609.00 183.77,609.00 C184.67,609.00 185.31,609.38 186.08,609.77 C186.85,610.15 187.62,610.67 188.38,611.31 C189.15,611.95 189.79,612.85 190.69,613.62 C191.59,614.38 192.62,615.33 193.77,615.92 C194.92,616.51 196.21,616.85 197.62,617.15 C199.03,617.46 201.46,617.67 202.23,617.77" stroke="#111"/>
<path d="M155.31,617.77 C155.82,617.21 157.36,615.72 158.38,614.38 C159.41,613.05 160.44,611.56 161.46,609.77 C162.49,607.97 163.64,606.18 164.54,603.62 C165.44,601.05 166.21,598.23 166.85,594.38 C167.49,590.54 167.87,584.64 168.38,580.54 C168.90,576.44 169.46,572.46 169.92,569.77 C170.38,567.08 170.85,565.41 171.15,564.38 C171.46,563.36 171.46,562.97 171.77,563.62 C172.08,564.26 172.54,566.18 173.00,568.23 C173.46,570.28 174.03,573.62 174.54,575.92 C175.05,578.23 175.51,579.77 176.08,582.08 C176.64,584.38 177.28,587.21 177.92,589.77 C178.56,592.33 179.21,595.15 179.92,597.46 C180.64,599.77 181.46,602.33 182.23,603.62 C183.00,604.90 183.77,604.64 184.54,605.15 C185.31,605.67 186.08,605.92 186.85,606.69 C187.62,607.46 188.38,608.74 189.15,609.77 C189.92,610.79 190.56,611.95 191.46,612.85 C192.36,613.74 193.26,614.51 194.54,615.15 C195.82,615.79 197.36,616.26 199.15,616.69 C200.95,617.13 204.28,617.59 205.31,617.77" stroke="#3ad43a"/>
<path d="M160.69,617.77 C161.46,617.33 163.90,616.23 165.31,615.15 C166.72,614.08 167.87,612.72 169.15,611.31 C170.44,609.90 171.72,608.23 173.00,606.69 C174.28,605.15 175.69,603.87 176.85,602.08 C178.00,600.28 179.03,598.23 179.92,595.92 C180.82,593.62 181.46,590.79 182.23,588.23 C183.00,585.67 183.77,582.85 184.54,580.54 C185.31,578.23 186.08,575.92 186.85,574.38 C187.62,572.85 188.46,572.33 189.15,571.31 C189.85,570.28 190.46,568.23 191.00,568.23 C191.54,568.23 191.92,570.03 192.38,571.31 C192.85,572.59 193.21,573.62 193.77,575.92 C194.33,578.23 195.13,582.33 195.77,585.15 C196.41,587.97 197.05,590.54 197.62,592.85 C198.18,595.15 198.59,597.21 199.15,599.00 C199.72,600.79 200.36,602.08 201.00,603.62 C201.64,605.15 202.28,606.69 203.00,608.23 C203.72,609.77 204.54,611.62 205.31,612.85 C206.08,614.08 206.59,614.85 207.62,615.62 C208.64,616.38 210.05,617.10 211.46,617.46 C212.87,617.82 215.31,617.72 216.08,617.77" stroke="#d22b2b"/>
</g>
<g fill="none" stroke-width="1.1" stroke-linejoin="round" clip-path="url(#clip5_2)">
<path d="M239.85,617.46 C240.10,615.67 240.87,611.56 241.38,606.69 C241.90,601.82 242.41,594.64 242.92,588.23 C243.44,581.82 243.95,574.38 244.46,568.23 C244.97,562.08 245.54,555.54 246.00,551.31 C246.46,547.08 246.87,544.59 247.23,542.85 C247.59,541.10 247.85,540.46 248.15,540.85 C248.46,541.23 248.72,541.87 249.08,545.15 C249.44,548.44 249.90,554.90 250.31,560.54 C250.72,566.18 251.10,573.36 251.54,579.00 C251.97,584.64 252.44,590.03 252.92,594.38 C253.41,598.74 253.87,602.46 254.46,605.15 C255.05,607.85 255.62,609.00 256.46,610.54 C257.31,612.08 258.38,613.41 259.54,614.38 C260.69,615.36 261.85,615.82 263.38,616.38 C264.92,616.95 267.87,617.54 268.77,617.77" stroke="#111"/>
<path d="M242.62,617.77 C243.13,617.21 244.79,616.23 245.69,614.38 C246.59,612.54 247.23,610.03 248.00,606.69 C248.77,603.36 249.62,599.00 250.31,594.38 C251.00,589.77 251.56,583.87 252.15,579.00 C252.74,574.13 253.31,568.74 253.85,565.15 C254.38,561.56 254.90,559.05 255.38,557.46 C255.87,555.87 256.33,555.10 256.77,555.62 C257.21,556.13 257.59,557.92 258.00,560.54 C258.41,563.15 258.82,567.46 259.23,571.31 C259.64,575.15 260.03,579.51 260.46,583.62 C260.90,587.72 261.28,592.33 261.85,595.92 C262.41,599.51 263.08,602.46 263.85,605.15 C264.62,607.85 265.51,610.36 266.46,612.08 C267.41,613.79 268.26,614.62 269.54,615.46 C270.82,616.31 272.49,616.77 274.15,617.15 C275.82,617.54 278.64,617.67 279.54,617.77" stroke="#3ad43a"/>
<path d="M244.15,617.77 C244.79,617.46 246.77,616.87 248.00,615.92 C249.23,614.97 250.51,613.62 251.54,612.08 C252.56,610.54 253.38,609.13 254.15,606.69 C254.92,604.26 255.51,600.54 256.15,597.46 C256.79,594.38 257.38,591.05 258.00,588.23 C258.62,585.41 259.28,582.46 259.85,580.54 C260.41,578.62 260.92,577.59 261.38,576.69 C261.85,575.79 262.21,575.15 262.62,575.15 C263.03,575.15 263.38,575.79 263.85,576.69 C264.31,577.59 264.82,578.87 265.38,580.54 C265.95,582.21 266.62,584.64 267.23,586.69 C267.85,588.74 268.44,590.79 269.08,592.85 C269.72,594.90 270.36,596.95 271.08,599.00 C271.79,601.05 272.62,603.36 273.38,605.15 C274.15,606.95 274.87,608.36 275.69,609.77 C276.51,611.18 277.36,612.54 278.31,613.62 C279.26,614.69 280.15,615.54 281.38,616.23 C282.62,616.92 284.97,617.51 285.69,617.77" stroke="#d22b2b"/>
</g>
<g fill="none" stroke-width="1.1" stroke-linejoin="round" clip-path="url(#clip5_3)">
<path d="M325.77,617.46 C326.08,615.92 327.00,612.85 327.62,608.23 C328.23,603.62 328.90,596.18 329.46,589.77 C330.03,583.36 330.49,576.18 331.00,569.77 C331.51,563.36 332.08,555.67 332.54,551.31 C333.00,546.95 333.44,545.15 333.77,543.62 C334.10,542.08 334.23,541.31 334.54,542.08 C334.85,542.85 335.23,544.90 335.62,548.23 C336.00,551.56 336.38,557.21 336.85,562.08 C337.31,566.95 337.87,572.85 338.38,577.46 C338.90,582.08 339.41,585.92 339.92,589.77 C340.44,593.62 340.90,597.46 341.46,600.54 C342.03,603.62 342.59,606.05 343.31,608.23 C344.03,610.41 344.92,612.33 345.77,613.62 C346.62,614.90 347.18,615.28 348.38,615.92 C349.59,616.56 352.23,617.21 353.00,617.46" stroke="#111"/>
<path d="M329.15,617.77 C329.67,617.33 331.26,616.74 332.23,615.15 C333.21,613.56 334.18,611.18 335.00,608.23 C335.82,605.28 336.51,601.82 337.15,597.46 C337.79,593.10 338.33,586.69 338.85,582.08 C339.36,577.46 339.85,572.38 340.23,569.77 C340.62,567.15 340.82,566.90 341.15,566.38 C341.49,565.87 341.87,566.26 342.23,566.69 C342.59,567.13 342.92,567.21 343.31,569.00 C343.69,570.79 344.08,574.26 344.54,577.46 C345.00,580.67 345.51,584.90 346.08,588.23 C346.64,591.56 347.28,594.64 347.92,597.46 C348.56,600.28 349.15,602.85 349.92,605.15 C350.69,607.46 351.64,609.64 352.54,611.31 C353.44,612.97 354.21,614.21 355.31,615.15 C356.41,616.10 357.62,616.56 359.15,617.00 C360.69,617.44 363.64,617.64 364.54,617.77" stroke="#3ad43a"/>
<path d="M330.69,617.77 C331.21,617.46 332.79,617.00 333.77,615.92 C334.74,614.85 335.72,613.87 336.54,611.31 C337.36,608.74 338.00,604.38 338.69,600.54 C339.38,596.69 340.10,591.56 340.69,588.23 C341.28,584.90 341.72,582.46 342.23,580.54 C342.74,578.62 343.33,577.51 343.77,576.69 C344.21,575.87 344.46,575.36 344.85,575.62 C345.23,575.87 345.62,576.90 346.08,578.23 C346.54,579.56 347.10,581.69 347.62,583.62 C348.13,585.54 348.59,587.46 349.15,589.77 C349.72,592.08 350.36,595.15 351.00,597.46 C351.64,599.77 352.28,601.69 353.00,603.62 C353.72,605.54 354.46,607.46 355.31,609.00 C356.15,610.54 357.10,611.74 358.08,612.85 C359.05,613.95 360.08,614.90 361.15,615.62 C362.23,616.33 363.21,616.79 364.54,617.15 C365.87,617.51 368.38,617.67 369.15,617.77" stroke="#d22b2b"/>
</g>
<g fill="none" stroke-width="1.1" stroke-linejoin="round" clip-path="url(#clip5_4)">
<path d="M410.31,617.46 C410.56,615.67 411.33,611.56 411.85,606.69 C412.36,601.82 412.87,594.64 413.38,588.23 C413.90,581.82 414.41,574.64 414.92,568.23 C415.44,561.82 416.03,554.13 416.46,549.77 C416.90,545.41 417.26,543.49 417.54,542.08 C417.82,540.67 417.90,540.28 418.15,541.31 C418.41,542.33 418.77,544.26 419.08,548.23 C419.38,552.21 419.67,559.00 420.00,565.15 C420.33,571.31 420.72,579.26 421.08,585.15 C421.44,591.05 421.77,596.44 422.15,600.54 C422.54,604.64 422.92,607.46 423.38,609.77 C423.85,612.08 424.28,613.23 424.92,614.38 C425.56,615.54 425.95,616.13 427.23,616.69 C428.51,617.26 431.72,617.59 432.62,617.77" stroke="#111"/>
<path d="M411.08,617.77 C411.46,617.21 412.62,615.97 413.38,614.38 C414.15,612.79 415.00,610.79 415.69,608.23 C416.38,605.67 416.97,602.59 417.54,599.00 C418.10,595.41 418.56,590.79 419.08,586.69 C419.59,582.59 420.10,577.85 420.62,574.38 C421.13,570.92 421.74,567.72 422.15,565.92 C422.56,564.13 422.74,563.36 423.08,563.62 C423.41,563.87 423.79,565.15 424.15,567.46 C424.51,569.77 424.85,574.00 425.23,577.46 C425.62,580.92 426.00,584.90 426.46,588.23 C426.92,591.56 427.44,594.90 428.00,597.46 C428.56,600.03 429.21,602.08 429.85,603.62 C430.49,605.15 431.13,605.67 431.85,606.69 C432.56,607.72 433.38,608.62 434.15,609.77 C434.92,610.92 435.56,612.59 436.46,613.62 C437.36,614.64 438.26,615.28 439.54,615.92 C440.82,616.56 443.38,617.21 444.15,617.46" stroke="#3ad43a"/>
<path d="M411.08,617.77 C411.59,617.33 413.26,616.49 414.15,615.15 C415.05,613.82 415.74,612.21 416.46,609.77 C417.18,607.33 417.82,603.87 418.46,600.54 C419.10,597.21 419.69,593.36 420.31,589.77 C420.92,586.18 421.59,581.95 422.15,579.00 C422.72,576.05 423.28,573.49 423.69,572.08 C424.10,570.67 424.28,570.15 424.62,570.54 C424.95,570.92 425.33,572.46 425.69,574.38 C426.05,576.31 426.33,579.51 426.77,582.08 C427.21,584.64 427.79,587.21 428.31,589.77 C428.82,592.33 429.26,595.15 429.85,597.46 C430.44,599.77 431.13,601.69 431.85,603.62 C432.56,605.54 433.38,607.46 434.15,609.00 C434.92,610.54 435.56,611.74 436.46,612.85 C437.36,613.95 438.38,614.90 439.54,615.62 C440.69,616.33 441.97,616.79 443.38,617.15 C444.79,617.51 447.23,617.67 448.00,617.77" stroke="#d22b2b"/>
</g>
<g fill="none" stroke-width="1.1" stroke-linejoin="round" clip-path="url(#clip6_0)">
<path d="M70.31,756.46 C70.56,754.67 71.33,750.56 71.85,745.69 C72.36,740.82 72.87,733.90 73.38,727.23 C73.90,720.56 74.41,712.10 74.92,705.69 C75.44,699.28 76.03,692.62 76.46,688.77 C76.90,684.92 77.23,683.69 77.54,682.62 C77.85,681.54 78.05,681.79 78.31,682.31 C78.56,682.82 78.79,682.56 79.08,685.69 C79.36,688.82 79.67,694.92 80.00,701.08 C80.33,707.23 80.72,716.46 81.08,722.62 C81.44,728.77 81.77,733.90 82.15,738.00 C82.54,742.10 82.87,744.67 83.38,747.23 C83.90,749.79 84.46,751.97 85.23,753.38 C86.00,754.79 86.77,755.13 88.00,755.69 C89.23,756.26 91.85,756.59 92.62,756.77" stroke="#111"/>
<path d="M75.69,756.77 C76.15,756.21 77.64,755.23 78.46,753.38 C79.28,751.54 80.00,749.28 80.62,745.69 C81.23,742.10 81.69,736.97 82.15,731.85 C82.62,726.72 82.97,720.31 83.38,714.92 C83.79,709.54 84.23,703.77 84.62,699.54 C85.00,695.31 85.38,691.46 85.69,689.54 C86.00,687.62 86.18,687.87 86.46,688.00 C86.74,688.13 87.08,688.13 87.38,690.31 C87.69,692.49 87.95,696.72 88.31,701.08 C88.67,705.44 89.13,711.33 89.54,716.46 C89.95,721.59 90.31,727.23 90.77,731.85 C91.23,736.46 91.69,740.82 92.31,744.15 C92.92,747.49 93.64,749.92 94.46,751.85 C95.28,753.77 96.13,754.87 97.23,755.69 C98.33,756.51 100.44,756.59 101.08,756.77" stroke="#3ad43a"/>
<path d="M78.77,756.77 C79.28,756.33 80.95,755.49 81.85,754.15 C82.74,752.82 83.51,751.21 84.15,748.77 C84.79,746.33 85.23,743.38 85.69,739.54 C86.15,735.69 86.54,730.31 86.92,725.69 C87.31,721.08 87.62,715.95 88.00,711.85 C88.38,707.74 88.85,703.90 89.23,701.08 C89.62,698.26 90.00,696.21 90.31,694.92 C90.62,693.64 90.82,693.13 91.08,693.38 C91.33,693.64 91.59,694.41 91.85,696.46 C92.10,698.51 92.31,701.85 92.62,705.69 C92.92,709.54 93.31,715.18 93.69,719.54 C94.08,723.90 94.46,728.00 94.92,731.85 C95.38,735.69 95.87,739.54 96.46,742.62 C97.05,745.69 97.69,748.26 98.46,750.31 C99.23,752.36 100.00,753.90 101.08,754.92 C102.15,755.95 102.74,756.15 104.92,756.46 C107.10,756.77 107.49,756.72 114.15,756.77 C120.82,756.82 139.79,756.77 144.92,756.77" stroke="#d22b2b"/>
</g>
<g fill="none" stroke-width="1.1" stroke-linejoin="round" clip-path="url(#clip6_1)">
<path d="M155.77,756.46 C156.03,754.92 156.79,751.85 157.31,747.23 C157.82,742.62 158.33,735.44 158.85,728.77 C159.36,722.10 159.87,713.90 160.38,707.23 C160.90,700.56 161.46,693.00 161.92,688.77 C162.38,684.54 162.79,683.13 163.15,681.85 C163.51,680.56 163.77,680.44 164.08,681.08 C164.38,681.72 164.67,682.36 165.00,685.69 C165.33,689.03 165.72,695.18 166.08,701.08 C166.44,706.97 166.77,714.92 167.15,721.08 C167.54,727.23 167.97,733.38 168.38,738.00 C168.79,742.62 169.10,746.08 169.62,748.77 C170.13,751.46 170.64,752.92 171.46,754.15 C172.28,755.38 173.26,755.72 174.54,756.15 C175.82,756.59 178.38,756.67 179.15,756.77" stroke="#111"/>
<path d="M161.46,756.77 C161.97,756.33 163.69,755.74 164.54,754.15 C165.38,752.56 165.95,750.95 166.54,747.23 C167.13,743.51 167.62,737.49 168.08,731.85 C168.54,726.21 168.90,718.77 169.31,713.38 C169.72,708.00 170.13,703.00 170.54,699.54 C170.95,696.08 171.44,693.95 171.77,692.62 C172.10,691.28 172.26,691.15 172.54,691.54 C172.82,691.92 173.13,692.56 173.46,694.92 C173.79,697.28 174.15,701.59 174.54,705.69 C174.92,709.79 175.31,714.92 175.77,719.54 C176.23,724.15 176.74,729.28 177.31,733.38 C177.87,737.49 178.46,741.08 179.15,744.15 C179.85,747.23 180.56,749.92 181.46,751.85 C182.36,753.77 183.38,754.87 184.54,755.69 C185.69,756.51 187.74,756.59 188.38,756.77" stroke="#3ad43a"/>
<path d="M163.77,756.77 C164.41,756.33 166.59,755.49 167.62,754.15 C168.64,752.82 169.28,751.46 169.92,748.77 C170.56,746.08 170.95,742.36 171.46,738.00 C171.97,733.64 172.49,727.49 173.00,722.62 C173.51,717.74 174.08,712.23 174.54,708.77 C175.00,705.31 175.44,703.26 175.77,701.85 C176.10,700.44 176.28,700.05 176.54,700.31 C176.79,700.56 177.00,701.21 177.31,703.38 C177.62,705.56 178.00,709.67 178.38,713.38 C178.77,717.10 179.18,721.85 179.62,725.69 C180.05,729.54 180.51,733.13 181.00,736.46 C181.49,739.79 181.95,743.00 182.54,745.69 C183.13,748.38 183.77,750.95 184.54,752.62 C185.31,754.28 186.00,755.00 187.15,755.69 C188.31,756.38 190.74,756.59 191.46,756.77" stroke="#d22b2b"/>
</g>
<g fill="none" stroke-width="1.1" stroke-linejoin="round" clip-path="url(#clip6_2)">
<path d="M240.77,756.46 C241.08,755.44 242.00,753.64 242.62,750.31 C243.23,746.97 243.90,741.85 244.46,736.46 C245.03,731.08 245.49,723.90 246.00,718.00 C246.51,712.10 247.08,705.44 247.54,701.08 C248.00,696.72 248.46,693.64 248.77,691.85 C249.08,690.05 249.13,689.79 249.38,690.31 C249.64,690.82 249.95,692.10 250.31,694.92 C250.67,697.74 251.10,702.62 251.54,707.23 C251.97,711.85 252.41,717.74 252.92,722.62 C253.44,727.49 254.03,732.62 254.62,736.46 C255.21,740.31 255.77,743.26 256.46,745.69 C257.15,748.13 257.95,749.67 258.77,751.08 C259.59,752.49 260.36,753.33 261.38,754.15 C262.41,754.97 263.44,755.56 264.92,756.00 C266.41,756.44 269.41,756.64 270.31,756.77" stroke="#111"/>
<path d="M240.31,756.77 C240.56,755.69 241.33,754.21 241.85,750.31 C242.36,746.41 242.87,740.31 243.38,733.38 C243.90,726.46 244.41,715.95 244.92,708.77 C245.44,701.59 246.03,694.92 246.46,690.31 C246.90,685.69 247.26,682.82 247.54,681.08 C247.82,679.33 247.90,679.33 248.15,679.85 C248.41,680.36 248.72,681.13 249.08,684.15 C249.44,687.18 249.90,692.62 250.31,698.00 C250.72,703.38 251.13,710.82 251.54,716.46 C251.95,722.10 252.33,727.49 252.77,731.85 C253.21,736.21 253.67,739.79 254.15,742.62 C254.64,745.44 255.05,746.97 255.69,748.77 C256.33,750.56 257.10,752.23 258.00,753.38 C258.90,754.54 259.79,755.13 261.08,755.69 C262.36,756.26 264.92,756.59 265.69,756.77" stroke="#3ad43a"/>
<path d="M240.77,756.46 C241.08,755.44 242.00,753.90 242.62,750.31 C243.23,746.72 243.90,740.56 244.46,734.92 C245.03,729.28 245.49,722.36 246.00,716.46 C246.51,710.56 247.08,703.77 247.54,699.54 C248.00,695.31 248.44,692.67 248.77,691.08 C249.10,689.49 249.23,689.36 249.54,690.00 C249.85,690.64 250.23,691.79 250.62,694.92 C251.00,698.05 251.38,703.90 251.85,708.77 C252.31,713.64 252.87,719.54 253.38,724.15 C253.90,728.77 254.36,732.87 254.92,736.46 C255.49,740.05 256.05,743.26 256.77,745.69 C257.49,748.13 258.38,749.67 259.23,751.08 C260.08,752.49 260.77,753.33 261.85,754.15 C262.92,754.97 264.28,755.56 265.69,756.00 C267.10,756.44 269.54,756.64 270.31,756.77" stroke="#d22b2b"/>
</g>
<g fill="none" stroke-width="1.1" stroke-linejoin="round" clip-path="url(#clip6_3)">
<path d="M326.60,728.90 C326.72,728.67 327.00,728.53 327.30,727.50 C327.60,726.47 328.00,724.95 328.40,722.70 C328.80,720.45 329.33,716.63 329.70,714.00 C330.07,711.37 330.32,708.67 330.60,706.90 C330.88,705.13 331.12,705.45 331.40,703.40 C331.68,701.35 332.03,697.53 332.30,694.60 C332.57,691.67 332.73,687.85 333.00,685.80 C333.27,683.75 333.57,682.73 333.90,682.30 C334.23,681.87 334.68,681.88 335.00,683.20 C335.32,684.52 335.52,686.83 335.80,690.20 C336.08,693.57 336.33,699.00 336.70,703.40 C337.07,707.80 337.57,711.47 338.00,716.60 C338.43,721.73 338.90,729.07 339.30,734.20 C339.70,739.33 339.95,744.18 340.40,747.40 C340.85,750.62 341.30,751.97 342.00,753.50 C342.70,755.03 343.43,755.97 344.60,756.60 C345.77,757.23 348.27,757.18 349.00,757.30" stroke="#111"/>
<path d="M325.90,757.50 L325.90,712.00 C326.08,711.00 326.57,707.50 327.00,706.00 C327.43,704.50 328.00,703.83 328.50,703.00 C329.00,702.17 329.55,701.42 330.00,701.00 C330.45,700.58 330.80,700.50 331.20,700.50 C331.60,700.50 332.00,700.58 332.40,701.00 C332.80,701.42 333.20,702.00 333.60,703.00 C334.00,704.00 334.40,705.17 334.80,707.00 C335.20,708.83 335.60,711.17 336.00,714.00 C336.40,716.83 336.78,720.33 337.20,724.00 C337.62,727.67 338.07,732.33 338.50,736.00 C338.93,739.67 339.30,743.23 339.80,746.00 C340.30,748.77 340.77,750.90 341.50,752.60 C342.23,754.30 342.95,755.42 344.20,756.20 C345.45,756.98 348.20,757.12 349.00,757.30" stroke="#3ad43a"/>
<path d="M325.70,757.50 L325.70,704.30 C326.07,703.57 327.32,701.23 327.90,699.90 C328.48,698.57 328.78,697.18 329.20,696.30 C329.62,695.42 329.88,694.88 330.40,694.60 C330.92,694.32 331.77,694.23 332.30,694.60 C332.83,694.97 333.25,695.90 333.60,696.80 C333.95,697.70 334.10,698.17 334.40,700.00 C334.70,701.83 335.02,705.03 335.40,707.80 C335.78,710.57 336.27,712.93 336.70,716.60 C337.13,720.27 337.48,724.97 338.00,729.80 C338.52,734.63 339.22,741.80 339.80,745.60 C340.38,749.40 340.77,750.83 341.50,752.60 C342.23,754.37 342.95,755.42 344.20,756.20 C345.45,756.98 348.20,757.12 349.00,757.30" stroke="#d22b2b"/>
</g>
<g fill="none" stroke-width="1.1" stroke-linejoin="round" clip-path="url(#clip6_4)">
<path d="M409.85,757.08 C409.95,754.67 410.15,747.59 410.46,742.62 C410.77,737.64 411.28,732.62 411.69,727.23 C412.10,721.85 412.51,715.44 412.92,710.31 C413.33,705.18 413.74,700.31 414.15,696.46 C414.56,692.62 415.00,689.33 415.38,687.23 C415.77,685.13 416.15,684.49 416.46,683.85 C416.77,683.21 416.95,682.95 417.23,683.38 C417.51,683.82 417.85,684.54 418.15,686.46 C418.46,688.38 418.74,691.46 419.08,694.92 C419.41,698.38 419.79,702.87 420.15,707.23 C420.51,711.59 420.87,716.72 421.23,721.08 C421.59,725.44 421.92,729.67 422.31,733.38 C422.69,737.10 423.05,740.44 423.54,743.38 C424.03,746.33 424.56,749.15 425.23,751.08 C425.90,753.00 426.62,754.00 427.54,754.92 C428.46,755.85 429.41,756.26 430.77,756.62 C432.13,756.97 434.87,757.00 435.69,757.08" stroke="#111"/>
<path d="M409.85,757.08 C409.95,754.15 410.15,745.03 410.46,739.54 C410.77,734.05 411.28,729.28 411.69,724.15 C412.10,719.03 412.51,713.64 412.92,708.77 C413.33,703.90 413.74,698.64 414.15,694.92 C414.56,691.21 414.97,688.51 415.38,686.46 C415.79,684.41 416.26,683.38 416.62,682.62 C416.97,681.85 417.23,681.33 417.54,681.85 C417.85,682.36 418.15,683.51 418.46,685.69 C418.77,687.87 419.08,691.33 419.38,694.92 C419.69,698.51 419.97,702.87 420.31,707.23 C420.64,711.59 421.03,716.72 421.38,721.08 C421.74,725.44 422.08,729.67 422.46,733.38 C422.85,737.10 423.23,740.44 423.69,743.38 C424.15,746.33 424.59,749.15 425.23,751.08 C425.87,753.00 426.62,754.00 427.54,754.92 C428.46,755.85 429.41,756.26 430.77,756.62 C432.13,756.97 434.87,757.00 435.69,757.08" stroke="#3ad43a"/>
<path d="M409.85,757.08 C409.92,754.67 410.05,747.59 410.31,742.62 C410.56,737.64 411.00,732.62 411.38,727.23 C411.77,721.85 412.21,715.44 412.62,710.31 C413.03,705.18 413.44,700.31 413.85,696.46 C414.26,692.62 414.69,689.41 415.08,687.23 C415.46,685.05 415.85,684.10 416.15,683.38 C416.46,682.67 416.64,682.54 416.92,682.92 C417.21,683.31 417.54,683.95 417.85,685.69 C418.15,687.44 418.44,690.05 418.77,693.38 C419.10,696.72 419.49,701.33 419.85,705.69 C420.21,710.05 420.54,715.18 420.92,719.54 C421.31,723.90 421.74,728.00 422.15,731.85 C422.56,735.69 422.92,739.54 423.38,742.62 C423.85,745.69 424.28,748.31 424.92,750.31 C425.56,752.31 426.33,753.59 427.23,754.62 C428.13,755.64 428.90,756.05 430.31,756.46 C431.72,756.87 434.79,756.97 435.69,757.08" stroke="#d22b2b"/>
</g>
<g fill="none" stroke-width="1.1" stroke-linejoin="round" clip-path="url(#clip7_0)">
<path d="M70.31,845.46 C70.56,843.67 71.33,839.56 71.85,834.69 C72.36,829.82 72.87,822.64 73.38,816.23 C73.90,809.82 74.41,802.13 74.92,796.23 C75.44,790.33 76.00,784.56 76.46,780.85 C76.92,777.13 77.36,775.33 77.69,773.92 C78.03,772.51 78.21,772.13 78.46,772.38 C78.72,772.64 78.92,772.51 79.23,775.46 C79.54,778.41 79.92,784.56 80.31,790.08 C80.69,795.59 81.13,802.90 81.54,808.54 C81.95,814.18 82.33,819.56 82.77,823.92 C83.21,828.28 83.59,831.74 84.15,834.69 C84.72,837.64 85.38,840.00 86.15,841.62 C86.92,843.23 87.69,843.69 88.77,844.38 C89.85,845.08 91.97,845.54 92.62,845.77" stroke="#111"/>
<path d="M80.31,845.77 C80.69,845.33 81.90,845.00 82.62,843.15 C83.33,841.31 84.03,838.41 84.62,834.69 C85.21,830.97 85.69,825.97 86.15,820.85 C86.62,815.72 86.97,809.31 87.38,803.92 C87.79,798.54 88.21,792.90 88.62,788.54 C89.03,784.18 89.51,780.08 89.85,777.77 C90.18,775.46 90.36,774.82 90.62,774.69 C90.87,774.56 91.10,774.95 91.38,777.00 C91.67,779.05 91.97,782.77 92.31,787.00 C92.64,791.23 93.00,797.26 93.38,802.38 C93.77,807.51 94.18,813.15 94.62,817.77 C95.05,822.38 95.49,826.62 96.00,830.08 C96.51,833.54 97.03,836.23 97.69,838.54 C98.36,840.85 99.05,842.72 100.00,843.92 C100.95,845.13 102.82,845.46 103.38,845.77" stroke="#3ad43a"/>
<path d="M83.38,845.77 C83.77,845.33 84.97,844.74 85.69,843.15 C86.41,841.56 87.10,839.18 87.69,836.23 C88.28,833.28 88.74,829.56 89.23,825.46 C89.72,821.36 90.18,815.97 90.62,811.62 C91.05,807.26 91.44,802.90 91.85,799.31 C92.26,795.72 92.69,792.33 93.08,790.08 C93.46,787.82 93.87,786.59 94.15,785.77 C94.44,784.95 94.51,784.82 94.77,785.15 C95.03,785.49 95.36,785.92 95.69,787.77 C96.03,789.62 96.38,792.51 96.77,796.23 C97.15,799.95 97.59,805.72 98.00,810.08 C98.41,814.44 98.79,818.54 99.23,822.38 C99.67,826.23 100.13,830.08 100.62,833.15 C101.10,836.23 101.56,838.92 102.15,840.85 C102.74,842.77 103.18,843.87 104.15,844.69 C105.13,845.51 107.36,845.59 108.00,845.77" stroke="#d22b2b"/>
</g>
<g fill="none" stroke-width="1.1" stroke-linejoin="round" clip-path="url(#clip7_1)">
<path d="M155.31,845.46 C155.49,843.67 156.00,839.56 156.38,834.69 C156.77,829.82 157.15,822.64 157.62,816.23 C158.08,809.82 158.69,801.87 159.15,796.23 C159.62,790.59 160.00,785.85 160.38,782.38 C160.77,778.92 161.15,776.95 161.46,775.46 C161.77,773.97 161.95,773.33 162.23,773.46 C162.51,773.59 162.85,773.72 163.15,776.23 C163.46,778.74 163.72,783.41 164.08,788.54 C164.44,793.67 164.90,801.10 165.31,807.00 C165.72,812.90 166.15,819.31 166.54,823.92 C166.92,828.54 167.18,831.74 167.62,834.69 C168.05,837.64 168.51,840.00 169.15,841.62 C169.79,843.23 170.44,843.69 171.46,844.38 C172.49,845.08 174.67,845.54 175.31,845.77" stroke="#111"/>
<path d="M165.31,845.77 C165.62,845.21 166.59,844.23 167.15,842.38 C167.72,840.54 168.18,838.28 168.69,834.69 C169.21,831.10 169.77,825.72 170.23,820.85 C170.69,815.97 171.05,810.08 171.46,805.46 C171.87,800.85 172.31,796.62 172.69,793.15 C173.08,789.69 173.46,786.49 173.77,784.69 C174.08,782.90 174.26,782.26 174.54,782.38 C174.82,782.51 175.15,783.41 175.46,785.46 C175.77,787.51 176.03,790.85 176.38,794.69 C176.74,798.54 177.21,804.18 177.62,808.54 C178.03,812.90 178.41,817.00 178.85,820.85 C179.28,824.69 179.72,828.54 180.23,831.62 C180.74,834.69 181.33,837.26 181.92,839.31 C182.51,841.36 183.08,842.85 183.77,843.92 C184.46,845.00 185.69,845.46 186.08,845.77" stroke="#3ad43a"/>
<path d="M166.85,845.77 C167.23,845.33 168.44,844.74 169.15,843.15 C169.87,841.56 170.51,838.92 171.15,836.23 C171.79,833.54 172.44,830.33 173.00,827.00 C173.56,823.67 174.03,819.82 174.54,816.23 C175.05,812.64 175.62,808.54 176.08,805.46 C176.54,802.38 176.92,799.56 177.31,797.77 C177.69,795.97 178.03,794.82 178.38,794.69 C178.74,794.56 179.08,795.46 179.46,797.00 C179.85,798.54 180.28,801.23 180.69,803.92 C181.10,806.62 181.51,809.82 181.92,813.15 C182.33,816.49 182.72,820.59 183.15,823.92 C183.59,827.26 184.05,830.46 184.54,833.15 C185.03,835.85 185.49,838.15 186.08,840.08 C186.67,842.00 187.31,843.74 188.08,844.69 C188.85,845.64 190.26,845.59 190.69,845.77" stroke="#d22b2b"/>
</g>
<g fill="none" stroke-width="1.1" stroke-linejoin="round" clip-path="url(#clip7_2)">
<path d="M239.85,845.77 C240.00,843.92 240.44,839.10 240.77,834.69 C241.10,830.28 241.46,824.69 241.85,819.31 C242.23,813.92 242.64,807.77 243.08,802.38 C243.51,797.00 244.03,791.36 244.46,787.00 C244.90,782.64 245.31,778.92 245.69,776.23 C246.08,773.54 246.46,772.00 246.77,770.85 C247.08,769.69 247.26,769.05 247.54,769.31 C247.82,769.56 248.15,770.21 248.46,772.38 C248.77,774.56 249.08,778.67 249.38,782.38 C249.69,786.10 249.97,790.33 250.31,794.69 C250.64,799.05 251.03,804.18 251.38,808.54 C251.74,812.90 252.08,817.26 252.46,820.85 C252.85,824.44 253.23,827.26 253.69,830.08 C254.15,832.90 254.64,835.72 255.23,837.77 C255.82,839.82 256.38,841.18 257.23,842.38 C258.08,843.59 259.03,844.44 260.31,845.00 C261.59,845.56 264.15,845.64 264.92,845.77" stroke="#111"/>
<path d="M239.85,845.77 C239.97,843.92 240.31,839.10 240.62,834.69 C240.92,830.28 241.31,824.69 241.69,819.31 C242.08,813.92 242.49,807.77 242.92,802.38 C243.36,797.00 243.87,791.36 244.31,787.00 C244.74,782.64 245.15,778.92 245.54,776.23 C245.92,773.54 246.31,771.97 246.62,770.85 C246.92,769.72 247.10,769.21 247.38,769.46 C247.67,769.72 248.00,770.23 248.31,772.38 C248.62,774.54 248.92,778.67 249.23,782.38 C249.54,786.10 249.82,790.33 250.15,794.69 C250.49,799.05 250.87,804.18 251.23,808.54 C251.59,812.90 251.92,817.26 252.31,820.85 C252.69,824.44 253.08,827.26 253.54,830.08 C254.00,832.90 254.49,835.72 255.08,837.77 C255.67,839.82 256.23,841.18 257.08,842.38 C257.92,843.59 258.85,844.44 260.15,845.00 C261.46,845.56 264.13,845.64 264.92,845.77" stroke="#3ad43a"/>
<path d="M240.00,845.77 C240.15,843.92 240.59,839.10 240.92,834.69 C241.26,830.28 241.62,824.69 242.00,819.31 C242.38,813.92 242.79,807.77 243.23,802.38 C243.67,797.00 244.18,791.36 244.62,787.00 C245.05,782.64 245.46,778.85 245.85,776.23 C246.23,773.62 246.62,772.33 246.92,771.31 C247.23,770.28 247.41,769.77 247.69,770.08 C247.97,770.38 248.31,770.97 248.62,773.15 C248.92,775.33 249.23,779.44 249.54,783.15 C249.85,786.87 250.13,791.10 250.46,795.46 C250.79,799.82 251.18,804.95 251.54,809.31 C251.90,813.67 252.23,818.03 252.62,821.62 C253.00,825.21 253.38,828.10 253.85,830.85 C254.31,833.59 254.79,836.13 255.38,838.08 C255.97,840.03 256.54,841.38 257.38,842.54 C258.23,843.69 259.21,844.46 260.46,845.00 C261.72,845.54 264.18,845.64 264.92,845.77" stroke="#d22b2b"/>
</g>
<g fill="none" stroke-width="1.1" stroke-linejoin="round" clip-path="url(#clip7_3)">
<path d="M327.90,817.00 C328.00,816.17 328.20,814.07 328.50,812.00 C328.80,809.93 329.28,806.77 329.70,804.60 C330.12,802.43 330.57,800.92 331.00,799.00 C331.43,797.08 331.92,795.60 332.30,793.10 C332.68,790.60 332.93,787.22 333.30,784.00 C333.67,780.78 334.20,776.22 334.50,773.80 C334.80,771.38 334.88,769.97 335.10,769.50 C335.32,769.03 335.57,769.58 335.80,771.00 C336.03,772.42 336.27,775.33 336.50,778.00 C336.73,780.67 336.95,783.67 337.20,787.00 C337.45,790.33 337.72,794.33 338.00,798.00 C338.28,801.67 338.60,805.33 338.90,809.00 C339.20,812.67 339.43,815.90 339.80,820.00 C340.17,824.10 340.70,830.43 341.10,833.60 C341.50,836.77 341.83,837.53 342.20,839.00 C342.57,840.47 342.75,841.40 343.30,842.40 C343.85,843.40 344.38,844.48 345.50,845.00 C346.62,845.52 349.25,845.42 350.00,845.50" stroke="#111"/>
<path d="M326.40,845.80 L326.40,805.00 C326.43,804.05 326.33,800.63 326.60,799.30 C326.87,797.97 327.52,797.80 328.00,797.00 C328.48,796.20 328.93,795.43 329.50,794.50 C330.07,793.57 330.85,792.98 331.40,791.40 C331.95,789.82 332.37,787.07 332.80,785.00 C333.23,782.93 333.70,780.83 334.00,779.00 C334.30,777.17 334.40,775.25 334.60,774.00 C334.80,772.75 334.97,771.50 335.20,771.50 C335.43,771.50 335.73,772.42 336.00,774.00 C336.27,775.58 336.53,778.33 336.80,781.00 C337.07,783.67 337.32,786.67 337.60,790.00 C337.88,793.33 338.20,797.17 338.50,801.00 C338.80,804.83 339.07,808.83 339.40,813.00 C339.73,817.17 340.13,822.33 340.50,826.00 C340.87,829.67 341.18,832.50 341.60,835.00 C342.02,837.50 342.43,839.42 343.00,841.00 C343.57,842.58 343.83,843.75 345.00,844.50 C346.17,845.25 349.17,845.33 350.00,845.50" stroke="#3ad43a"/>
<path d="M326.20,845.80 L326.20,800.00 C326.27,799.17 326.38,796.33 326.60,795.00 C326.82,793.67 327.13,793.05 327.50,792.00 C327.87,790.95 328.38,789.70 328.80,788.70 C329.22,787.70 329.63,786.78 330.00,786.00 C330.37,785.22 330.63,784.42 331.00,784.00 C331.37,783.58 331.83,783.30 332.20,783.50 C332.57,783.70 332.82,784.28 333.20,785.20 C333.58,786.12 334.08,787.37 334.50,789.00 C334.92,790.63 335.28,792.83 335.70,795.00 C336.12,797.17 336.53,799.50 337.00,802.00 C337.47,804.50 338.03,807.00 338.50,810.00 C338.97,813.00 339.37,816.07 339.80,820.00 C340.23,823.93 340.65,830.27 341.10,833.60 C341.55,836.93 342.02,838.35 342.50,840.00 C342.98,841.65 343.42,842.67 344.00,843.50 C344.58,844.33 345.00,844.67 346.00,845.00 C347.00,845.33 349.33,845.42 350.00,845.50" stroke="#d22b2b"/>
</g>
<g fill="none" stroke-width="1.1" stroke-linejoin="round" clip-path="url(#clip7_4)">
<path d="M409.85,846.08 C409.95,843.67 410.21,836.59 410.46,831.62 C410.72,826.64 411.03,821.62 411.38,816.23 C411.74,810.85 412.21,804.44 412.62,799.31 C413.03,794.18 413.44,789.31 413.85,785.46 C414.26,781.62 414.72,778.23 415.08,776.23 C415.44,774.23 415.69,773.72 416.00,773.46 C416.31,773.21 416.64,775.00 416.92,774.69 C417.21,774.38 417.44,772.51 417.69,771.62 C417.95,770.72 418.21,769.05 418.46,769.31 C418.72,769.56 418.97,770.72 419.23,773.15 C419.49,775.59 419.72,780.08 420.00,783.92 C420.28,787.77 420.62,792.13 420.92,796.23 C421.23,800.33 421.51,804.44 421.85,808.54 C422.18,812.64 422.54,817.00 422.92,820.85 C423.31,824.69 423.69,828.54 424.15,831.62 C424.62,834.69 425.10,837.31 425.69,839.31 C426.28,841.31 426.85,842.59 427.69,843.62 C428.54,844.64 429.44,845.05 430.77,845.46 C432.10,845.87 434.87,845.97 435.69,846.08" stroke="#111"/>
<path d="M409.85,846.08 C409.92,843.15 410.10,834.03 410.31,828.54 C410.51,823.05 410.74,818.28 411.08,813.15 C411.41,808.03 411.90,802.64 412.31,797.77 C412.72,792.90 413.13,787.64 413.54,783.92 C413.95,780.21 414.36,777.31 414.77,775.46 C415.18,773.62 415.64,773.03 416.00,772.85 C416.36,772.67 416.64,774.64 416.92,774.38 C417.21,774.13 417.44,772.15 417.69,771.31 C417.95,770.46 418.21,768.87 418.46,769.31 C418.72,769.74 418.95,771.23 419.23,773.92 C419.51,776.62 419.85,781.49 420.15,785.46 C420.46,789.44 420.77,793.67 421.08,797.77 C421.38,801.87 421.67,805.97 422.00,810.08 C422.33,814.18 422.69,818.67 423.08,822.38 C423.46,826.10 423.85,829.51 424.31,832.38 C424.77,835.26 425.23,837.69 425.85,839.62 C426.46,841.54 427.13,842.92 428.00,843.92 C428.87,844.92 429.79,845.26 431.08,845.62 C432.36,845.97 434.92,846.00 435.69,846.08" stroke="#3ad43a"/>
<path d="M409.85,846.08 C409.92,843.67 410.08,836.59 410.31,831.62 C410.54,826.64 410.87,821.62 411.23,816.23 C411.59,810.85 412.05,804.44 412.46,799.31 C412.87,794.18 413.28,789.31 413.69,785.46 C414.10,781.62 414.54,778.28 414.92,776.23 C415.31,774.18 415.69,773.54 416.00,773.15 C416.31,772.77 416.51,774.18 416.77,773.92 C417.03,773.67 417.31,772.31 417.54,771.62 C417.77,770.92 417.90,769.51 418.15,769.77 C418.41,770.03 418.79,771.05 419.08,773.15 C419.36,775.26 419.56,778.79 419.85,782.38 C420.13,785.97 420.46,790.59 420.77,794.69 C421.08,798.79 421.36,802.90 421.69,807.00 C422.03,811.10 422.38,815.46 422.77,819.31 C423.15,823.15 423.54,826.87 424.00,830.08 C424.46,833.28 424.95,836.33 425.54,838.54 C426.13,840.74 426.69,842.15 427.54,843.31 C428.38,844.46 429.26,845.00 430.62,845.46 C431.97,845.92 434.85,845.97 435.69,846.08" stroke="#d22b2b"/>
</g>
<g fill="none" stroke-width="1.1" stroke-linejoin="round" clip-path="url(#clip8_0)">
<path d="M69.85,933.46 C70.05,931.92 70.67,928.33 71.08,924.23 C71.49,920.13 71.90,914.49 72.31,908.85 C72.72,903.21 73.13,896.03 73.54,890.38 C73.95,884.74 74.36,879.36 74.77,875.00 C75.18,870.64 75.67,866.59 76.00,864.23 C76.33,861.87 76.51,861.10 76.77,860.85 C77.03,860.59 77.26,861.10 77.54,862.69 C77.82,864.28 78.13,866.54 78.46,870.38 C78.79,874.23 79.18,880.64 79.54,885.77 C79.90,890.90 80.23,896.28 80.62,901.15 C81.00,906.03 81.44,911.15 81.85,915.00 C82.26,918.85 82.62,921.79 83.08,924.23 C83.54,926.67 83.92,928.33 84.62,929.62 C85.31,930.90 86.15,931.28 87.23,931.92 C88.31,932.56 89.41,933.10 91.08,933.46 C92.74,933.82 96.21,933.97 97.23,934.08" stroke="#111"/>
<path d="M69.85,933.46 C70.05,931.67 70.67,927.05 71.08,922.69 C71.49,918.33 71.90,912.95 72.31,907.31 C72.72,901.67 73.13,894.49 73.54,888.85 C73.95,883.21 74.41,877.31 74.77,873.46 C75.13,869.62 75.38,867.69 75.69,865.77 C76.00,863.85 76.36,862.44 76.62,861.92 C76.87,861.41 76.97,861.54 77.23,862.69 C77.49,863.85 77.85,865.51 78.15,868.85 C78.46,872.18 78.72,877.56 79.08,882.69 C79.44,887.82 79.90,894.23 80.31,899.62 C80.72,905.00 81.13,910.90 81.54,915.00 C81.95,919.10 82.31,921.79 82.77,924.23 C83.23,926.67 83.64,928.33 84.31,929.62 C84.97,930.90 85.64,931.28 86.77,931.92 C87.90,932.56 89.33,933.10 91.08,933.46 C92.82,933.82 96.21,933.97 97.23,934.08" stroke="#3ad43a"/>
<path d="M70.15,933.46 C70.36,931.92 70.97,928.33 71.38,924.23 C71.79,920.13 72.21,914.23 72.62,908.85 C73.03,903.46 73.44,897.31 73.85,891.92 C74.26,886.54 74.67,880.64 75.08,876.54 C75.49,872.44 75.95,869.49 76.31,867.31 C76.67,865.13 76.92,863.97 77.23,863.46 C77.54,862.95 77.85,862.82 78.15,864.23 C78.46,865.64 78.74,868.08 79.08,871.92 C79.41,875.77 79.79,882.18 80.15,887.31 C80.51,892.44 80.87,897.82 81.23,902.69 C81.59,907.56 81.95,912.82 82.31,916.54 C82.67,920.26 82.95,922.74 83.38,925.00 C83.82,927.26 84.21,928.87 84.92,930.08 C85.64,931.28 86.54,931.64 87.69,932.23 C88.85,932.82 90.26,933.31 91.85,933.62 C93.44,933.92 96.33,934.00 97.23,934.08" stroke="#d22b2b"/>
</g>
<g fill="none" stroke-width="1.1" stroke-linejoin="round" clip-path="url(#clip8_1)">
<path d="M155.77,933.77 C156.03,931.92 156.79,927.36 157.31,922.69 C157.82,918.03 158.33,911.92 158.85,905.77 C159.36,899.62 159.92,891.41 160.38,885.77 C160.85,880.13 161.26,875.77 161.62,871.92 C161.97,868.08 162.23,865.00 162.54,862.69 C162.85,860.38 163.21,858.97 163.46,858.08 C163.72,857.18 163.85,856.79 164.08,857.31 C164.31,857.82 164.56,858.72 164.85,861.15 C165.13,863.59 165.44,867.31 165.77,871.92 C166.10,876.54 166.49,883.21 166.85,888.85 C167.21,894.49 167.56,900.90 167.92,905.77 C168.28,910.64 168.62,914.74 169.00,918.08 C169.38,921.41 169.69,923.67 170.23,925.77 C170.77,927.87 171.38,929.49 172.23,930.69 C173.08,931.90 173.90,932.46 175.31,933.00 C176.72,933.54 179.79,933.77 180.69,933.92" stroke="#111"/>
<path d="M155.77,933.77 C156.00,931.92 156.69,927.36 157.15,922.69 C157.62,918.03 158.05,911.92 158.54,905.77 C159.03,899.62 159.62,891.41 160.08,885.77 C160.54,880.13 160.95,875.51 161.31,871.92 C161.67,868.33 161.92,866.15 162.23,864.23 C162.54,862.31 162.90,861.03 163.15,860.38 C163.41,859.74 163.54,859.74 163.77,860.38 C164.00,861.03 164.26,861.79 164.54,864.23 C164.82,866.67 165.13,870.38 165.46,875.00 C165.79,879.62 166.18,886.54 166.54,891.92 C166.90,897.31 167.26,902.69 167.62,907.31 C167.97,911.92 168.31,916.41 168.69,919.62 C169.08,922.82 169.38,924.67 169.92,926.54 C170.46,928.41 171.08,929.77 171.92,930.85 C172.77,931.92 173.54,932.49 175.00,933.00 C176.46,933.51 179.74,933.77 180.69,933.92" stroke="#3ad43a"/>
<path d="M156.08,933.77 C156.33,931.92 157.10,927.36 157.62,922.69 C158.13,918.03 158.64,911.92 159.15,905.77 C159.67,899.62 160.23,891.41 160.69,885.77 C161.15,880.13 161.56,875.26 161.92,871.92 C162.28,868.59 162.54,867.18 162.85,865.77 C163.15,864.36 163.49,863.72 163.77,863.46 C164.05,863.21 164.28,863.08 164.54,864.23 C164.79,865.38 165.03,867.56 165.31,870.38 C165.59,873.21 165.92,877.05 166.23,881.15 C166.54,885.26 166.82,890.38 167.15,895.00 C167.49,899.62 167.87,904.74 168.23,908.85 C168.59,912.95 168.90,916.67 169.31,919.62 C169.72,922.56 170.13,924.64 170.69,926.54 C171.26,928.44 171.85,929.90 172.69,931.00 C173.54,932.10 174.44,932.67 175.77,933.15 C177.10,933.64 179.87,933.79 180.69,933.92" stroke="#d22b2b"/>
</g>
<g fill="none" stroke-width="1.1" stroke-linejoin="round" clip-path="url(#clip8_2)">
<path d="M240.77,933.77 C241.03,932.18 241.79,928.13 242.31,924.23 C242.82,920.33 243.38,915.00 243.85,910.38 C244.31,905.77 244.67,901.15 245.08,896.54 C245.49,891.92 245.90,886.79 246.31,882.69 C246.72,878.59 247.18,874.62 247.54,871.92 C247.90,869.23 248.21,867.69 248.46,866.54 C248.72,865.38 248.82,864.87 249.08,865.00 C249.33,865.13 249.67,865.38 250.00,867.31 C250.33,869.23 250.72,872.95 251.08,876.54 C251.44,880.13 251.77,884.74 252.15,888.85 C252.54,892.95 252.97,897.31 253.38,901.15 C253.79,905.00 254.15,908.59 254.62,911.92 C255.08,915.26 255.59,918.59 256.15,921.15 C256.72,923.72 257.31,925.64 258.00,927.31 C258.69,928.97 259.41,930.21 260.31,931.15 C261.21,932.10 261.97,932.54 263.38,933.00 C264.79,933.46 267.87,933.77 268.77,933.92" stroke="#111"/>
<path d="M239.85,933.77 C240.00,932.05 240.44,928.00 240.77,923.46 C241.10,918.92 241.46,912.44 241.85,906.54 C242.23,900.64 242.69,893.72 243.08,888.08 C243.46,882.44 243.77,876.97 244.15,872.69 C244.54,868.41 245.03,864.87 245.38,862.38 C245.74,859.90 246.00,858.18 246.31,857.77 C246.62,857.36 246.90,858.21 247.23,859.92 C247.56,861.64 247.95,864.67 248.31,868.08 C248.67,871.49 249.03,876.03 249.38,880.38 C249.74,884.74 250.08,889.87 250.46,894.23 C250.85,898.59 251.28,902.69 251.69,906.54 C252.10,910.38 252.46,914.23 252.92,917.31 C253.38,920.38 253.85,922.87 254.46,925.00 C255.08,927.13 255.77,928.85 256.62,930.08 C257.46,931.31 258.28,931.77 259.54,932.38 C260.79,933.00 263.38,933.54 264.15,933.77" stroke="#3ad43a"/>
<path d="M239.85,933.77 C240.00,932.18 240.44,928.64 240.77,924.23 C241.10,919.82 241.46,913.21 241.85,907.31 C242.23,901.41 242.69,894.49 243.08,888.85 C243.46,883.21 243.77,877.82 244.15,873.46 C244.54,869.10 245.00,865.38 245.38,862.69 C245.77,860.00 246.13,857.82 246.46,857.31 C246.79,856.79 247.05,857.95 247.38,859.62 C247.72,861.28 248.10,863.97 248.46,867.31 C248.82,870.64 249.18,875.26 249.54,879.62 C249.90,883.97 250.23,889.10 250.62,893.46 C251.00,897.82 251.44,901.92 251.85,905.77 C252.26,909.62 252.62,913.46 253.08,916.54 C253.54,919.62 254.00,922.05 254.62,924.23 C255.23,926.41 255.95,928.28 256.77,929.62 C257.59,930.95 258.31,931.54 259.54,932.23 C260.77,932.92 263.38,933.51 264.15,933.77" stroke="#d22b2b"/>
</g>
<g fill="none" stroke-width="1.1" stroke-linejoin="round" clip-path="url(#clip8_3)">
<path d="M327.50,905.80 C327.65,905.65 328.12,906.08 328.40,904.90 C328.68,903.72 328.87,901.18 329.20,898.70 C329.53,896.22 330.03,892.63 330.40,890.00 C330.77,887.37 331.08,884.67 331.40,882.90 C331.72,881.13 332.00,881.45 332.30,879.40 C332.60,877.35 332.90,873.23 333.20,870.60 C333.50,867.97 333.78,865.55 334.10,863.60 C334.42,861.65 334.78,858.90 335.10,858.90 C335.42,858.90 335.70,860.92 336.00,863.60 C336.30,866.28 336.57,870.90 336.90,875.00 C337.23,879.10 337.57,883.07 338.00,888.20 C338.43,893.33 338.98,900.53 339.50,905.80 C340.02,911.07 340.62,916.13 341.10,919.80 C341.58,923.47 341.88,925.67 342.40,927.80 C342.92,929.93 343.38,931.67 344.20,932.60 C345.02,933.53 346.78,933.27 347.30,933.40" stroke="#111"/>
<path d="M326.30,933.80 L326.30,894.30 C326.57,893.58 327.42,892.05 327.90,890.00 C328.38,887.95 328.83,884.65 329.20,882.00 C329.57,879.35 329.80,876.88 330.10,874.10 C330.40,871.32 330.70,867.90 331.00,865.30 C331.30,862.70 331.53,859.52 331.90,858.50 C332.27,857.48 332.77,858.95 333.20,859.20 C333.63,859.45 334.13,859.62 334.50,860.00 C334.87,860.38 335.10,860.50 335.40,861.50 C335.70,862.50 336.00,863.58 336.30,866.00 C336.60,868.42 336.88,872.17 337.20,876.00 C337.52,879.83 337.80,884.17 338.20,889.00 C338.60,893.83 339.10,900.00 339.60,905.00 C340.10,910.00 340.70,915.25 341.20,919.00 C341.70,922.75 342.05,925.25 342.60,927.50 C343.15,929.75 343.60,931.52 344.50,932.50 C345.40,933.48 347.42,933.25 348.00,933.40" stroke="#3ad43a"/>
<path d="M326.00,933.80 L326.00,890.80 C326.17,890.37 326.60,889.22 327.00,888.20 C327.40,887.18 327.95,886.02 328.40,884.70 C328.85,883.38 329.27,881.42 329.70,880.30 C330.13,879.18 330.57,878.60 331.00,878.00 C331.43,877.40 331.93,877.50 332.30,876.70 C332.67,875.90 332.93,874.00 333.20,873.20 C333.47,872.40 333.63,871.45 333.90,871.90 C334.17,872.35 334.55,874.65 334.80,875.90 C335.05,877.15 335.08,877.05 335.40,879.40 C335.72,881.75 336.27,886.18 336.70,890.00 C337.13,893.82 337.48,897.62 338.00,902.30 C338.52,906.98 339.22,913.85 339.80,918.10 C340.38,922.35 340.85,925.38 341.50,927.80 C342.15,930.22 342.62,931.67 343.70,932.60 C344.78,933.53 347.28,933.27 348.00,933.40" stroke="#d22b2b"/>
</g>
<g fill="none" stroke-width="1.1" stroke-linejoin="round" clip-path="url(#clip8_4)">
<path d="M409.85,934.08 C409.90,929.36 409.95,912.54 410.15,905.77 C410.36,899.00 410.72,897.56 411.08,893.46 C411.44,889.36 411.90,885.00 412.31,881.15 C412.72,877.31 413.13,873.46 413.54,870.38 C413.95,867.31 414.41,864.54 414.77,862.69 C415.13,860.85 415.41,860.03 415.69,859.31 C415.97,858.59 416.21,858.21 416.46,858.38 C416.72,858.56 416.95,858.64 417.23,860.38 C417.51,862.13 417.85,865.38 418.15,868.85 C418.46,872.31 418.77,877.05 419.08,881.15 C419.38,885.26 419.69,889.62 420.00,893.46 C420.31,897.31 420.62,900.90 420.92,904.23 C421.23,907.56 421.51,910.64 421.85,913.46 C422.18,916.28 422.54,918.85 422.92,921.15 C423.31,923.46 423.69,925.64 424.15,927.31 C424.62,928.97 425.05,930.26 425.69,931.15 C426.33,932.05 426.85,932.26 428.00,932.69 C429.15,933.13 431.85,933.59 432.62,933.77" stroke="#111"/>
<path d="M409.85,934.08 C409.90,929.10 409.95,911.13 410.15,904.23 C410.36,897.33 410.72,896.67 411.08,892.69 C411.44,888.72 411.90,884.23 412.31,880.38 C412.72,876.54 413.13,872.64 413.54,869.62 C413.95,866.59 414.41,864.00 414.77,862.23 C415.13,860.46 415.44,859.64 415.69,859.00 C415.95,858.36 416.08,858.15 416.31,858.38 C416.54,858.62 416.79,858.64 417.08,860.38 C417.36,862.13 417.69,865.38 418.00,868.85 C418.31,872.31 418.62,877.05 418.92,881.15 C419.23,885.26 419.54,889.62 419.85,893.46 C420.15,897.31 420.46,900.90 420.77,904.23 C421.08,907.56 421.36,910.64 421.69,913.46 C422.03,916.28 422.38,918.85 422.77,921.15 C423.15,923.46 423.54,925.64 424.00,927.31 C424.46,928.97 424.87,930.26 425.54,931.15 C426.21,932.05 426.82,932.26 428.00,932.69 C429.18,933.13 431.85,933.59 432.62,933.77" stroke="#3ad43a"/>
<path d="M409.85,934.08 C409.90,929.49 409.95,913.18 410.15,906.54 C410.36,899.90 410.72,898.33 411.08,894.23 C411.44,890.13 411.90,885.77 412.31,881.92 C412.72,878.08 413.13,874.23 413.54,871.15 C413.95,868.08 414.41,865.38 414.77,863.46 C415.13,861.54 415.38,860.41 415.69,859.62 C416.00,858.82 416.33,858.49 416.62,858.69 C416.90,858.90 417.10,859.03 417.38,860.85 C417.67,862.67 418.00,866.10 418.31,869.62 C418.62,873.13 418.92,877.82 419.23,881.92 C419.54,886.03 419.85,890.38 420.15,894.23 C420.46,898.08 420.77,901.67 421.08,905.00 C421.38,908.33 421.67,911.46 422.00,914.23 C422.33,917.00 422.69,919.38 423.08,921.62 C423.46,923.85 423.85,926.00 424.31,927.62 C424.77,929.23 425.23,930.46 425.85,931.31 C426.46,932.15 426.87,932.28 428.00,932.69 C429.13,933.10 431.85,933.59 432.62,933.77" stroke="#d22b2b"/>
</g>
<defs>
<clipPath id="clip0_0"><rect x="69.50" y="67.90" width="78.30" height="77.40"/></clipPath>
<clipPath id="clip0_1"><rect x="154.45" y="67.90" width="78.30" height="77.40"/></clipPath>
<clipPath id="clip0_2"><rect x="239.40" y="67.90" width="78.30" height="77.40"/></clipPath>
<clipPath id="clip0_3"><rect x="324.35" y="67.90" width="78.30" height="77.40"/></clipPath>
<clipPath id="clip0_4"><rect x="409.30" y="67.90" width="78.30" height="77.40"/></clipPath>
<clipPath id="clip1_0"><rect x="69.50" y="156.30" width="78.30" height="77.40"/></clipPath>
<clipPath id="clip1_1"><rect x="154.45" y="156.30" width="78.30" height="77.40"/></clipPath>
<clipPath id="clip1_2"><rect x="239.40" y="156.30" width="78.30" height="77.40"/></clipPath>
<clipPath id="clip1_3"><rect x="324.35" y="156.30" width="78.30" height="77.40"/></clipPath>
<clipPath id="clip1_4"><rect x="409.30" y="156.30" width="78.30" height="77.40"/></clipPath>
<clipPath id="clip2_0"><rect x="69.50" y="244.60" width="78.30" height="77.40"/></clipPath>
<clipPath id="clip2_1"><rect x="154.45" y="244.60" width="78.30" height="77.40"/></clipPath>
<clipPath id="clip2_2"><rect x="239.40" y="244.60" width="78.30" height="77.40"/></clipPath>
<clipPath id="clip2_3"><rect x="324.35" y="244.60" width="78.30" height="77.40"/></clipPath>
<clipPath id="clip2_4"><rect x="409.30" y="244.60" width="78.30" height="77.40"/></clipPath>
<clipPath id="clip3_0"><rect x="69.50" y="364.10" width="78.30" height="77.40"/></clipPath>
<clipPath id="clip3_1"><rect x="154.45" y="364.10" width="78.30" height="77.40"/></clipPath>
<clipPath id="clip3_2"><rect x="239.40" y="364.10" width="78.30" height="77.40"/></clipPath>
<clipPath id="clip3_3"><rect x="324.35" y="364.10" width="78.30" height="77.40"/></clipPath>
<clipPath id="clip3_4"><rect x="409.30" y="364.10" width="78.30" height="77.40"/></clipPath>
<clipPath id="clip4_0"><rect x="69.50" y="452.30" width="78.30" height="77.40"/></clipPath>
<clipPath id="clip4_1"><rect x="154.45" y="452.30" width="78.30" height="77.40"/></clipPath>
<clipPath id="clip4_2"><rect x="239.40" y="452.30" width="78.30" height="77.40"/></clipPath>
<clipPath id="clip4_3"><rect x="324.35" y="452.30" width="78.30" height="77.40"/></clipPath>
<clipPath id="clip4_4"><rect x="409.30" y="452.30" width="78.30" height="77.40"/></clipPath>
<clipPath id="clip5_0"><rect x="69.50" y="540.40" width="78.30" height="77.40"/></clipPath>
<clipPath id="clip5_1"><rect x="154.45" y="540.40" width="78.30" height="77.40"/></clipPath>
<clipPath id="clip5_2"><rect x="239.40" y="540.40" width="78.30" height="77.40"/></clipPath>
<clipPath id="clip5_3"><rect x="324.35" y="540.40" width="78.30" height="77.40"/></clipPath>
<clipPath id="clip5_4"><rect x="409.30" y="540.40" width="78.30" height="77.40"/></clipPath>
<clipPath id="clip6_0"><rect x="69.50" y="679.90" width="78.30" height="77.40"/></clipPath>
<clipPath id="clip6_1"><rect x="154.45" y="679.90" width="78.30" height="77.40"/></clipPath>
<clipPath id="clip6_2"><rect x="239.40" y="679.90" width="78.30" height="77.40"/></clipPath>
<clipPath id="clip6_3"><rect x="324.35" y="679.90" width="78.30" height="77.40"/></clipPath>
<clipPath id="clip6_4"><rect x="409.30" y="679.90" width="78.30" height="77.40"/></clipPath>
<clipPath id="clip7_0"><rect x="69.50" y="768.10" width="78.30" height="77.40"/></clipPath>
<clipPath id="clip7_1"><rect x="154.45" y="768.10" width="78.30" height="77.40"/></clipPath>
<clipPath id="clip7_2"><rect x="239.40" y="768.10" width="78.30" height="77.40"/></clipPath>
<clipPath id="clip7_3"><rect x="324.35" y="768.10" width="78.30" height="77.40"/></clipPath>
<clipPath id="clip7_4"><rect x="409.30" y="768.10" width="78.30" height="77.40"/></clipPath>
<clipPath id="clip8_0"><rect x="69.50" y="856.30" width="78.30" height="77.40"/></clipPath>
<clipPath id="clip8_1"><rect x="154.45" y="856.30" width="78.30" height="77.40"/></clipPath>
<clipPath id="clip8_2"><rect x="239.40" y="856.30" width="78.30" height="77.40"/></clipPath>
<clipPath id="clip8_3"><rect x="324.35" y="856.30" width="78.30" height="77.40"/></clipPath>
<clipPath id="clip8_4"><rect x="409.30" y="856.30" width="78.30" height="77.40"/></clipPath>
</defs>
<line x1="71" y1="161.1" x2="143.3" y2="161.1" stroke="#d6d6d6" stroke-width="0.9"/>
<line x1="156" y1="772.5" x2="231.8" y2="772.5" stroke="#d6d6d6" stroke-width="0.9"/>
<rect x="69.50" y="67.90" width="78.30" height="77.40" fill="none" stroke="#000" stroke-width="1.6"/>
<rect x="154.45" y="67.90" width="78.30" height="77.40" fill="none" stroke="#000" stroke-width="1.6"/>
<rect x="239.40" y="67.90" width="78.30" height="77.40" fill="none" stroke="#000" stroke-width="1.6"/>
<rect x="324.35" y="67.90" width="78.30" height="77.40" fill="none" stroke="#000" stroke-width="1.6"/>
<rect x="409.30" y="67.90" width="78.30" height="77.40" fill="none" stroke="#000" stroke-width="1.6"/>
<rect x="69.50" y="156.30" width="78.30" height="77.40" fill="none" stroke="#000" stroke-width="1.6"/>
<rect x="154.45" y="156.30" width="78.30" height="77.40" fill="none" stroke="#000" stroke-width="1.6"/>
<rect x="239.40" y="156.30" width="78.30" height="77.40" fill="none" stroke="#000" stroke-width="1.6"/>
<rect x="324.35" y="156.30" width="78.30" height="77.40" fill="none" stroke="#000" stroke-width="1.6"/>
<rect x="409.30" y="156.30" width="78.30" height="77.40" fill="none" stroke="#000" stroke-width="1.6"/>
<rect x="69.50" y="244.60" width="78.30" height="77.40" fill="none" stroke="#000" stroke-width="1.6"/>
<rect x="154.45" y="244.60" width="78.30" height="77.40" fill="none" stroke="#000" stroke-width="1.6"/>
<rect x="239.40" y="244.60" width="78.30" height="77.40" fill="none" stroke="#000" stroke-width="1.6"/>
<rect x="324.35" y="244.60" width="78.30" height="77.40" fill="none" stroke="#000" stroke-width="1.6"/>
<rect x="409.30" y="244.60" width="78.30" height="77.40" fill="none" stroke="#000" stroke-width="1.6"/>
<rect x="69.50" y="364.10" width="78.30" height="77.40" fill="none" stroke="#000" stroke-width="1.6"/>
<rect x="154.45" y="364.10" width="78.30" height="77.40" fill="none" stroke="#000" stroke-width="1.6"/>
<rect x="239.40" y="364.10" width="78.30" height="77.40" fill="none" stroke="#000" stroke-width="1.6"/>
<rect x="324.35" y="364.10" width="78.30" height="77.40" fill="none" stroke="#000" stroke-width="1.6"/>
<rect x="409.30" y="364.10" width="78.30" height="77.40" fill="none" stroke="#000" stroke-width="1.6"/>
<rect x="69.50" y="452.30" width="78.30" height="77.40" fill="none" stroke="#000" stroke-width="1.6"/>
<rect x="154.45" y="452.30" width="78.30" height="77.40" fill="none" stroke="#000" stroke-width="1.6"/>
<rect x="239.40" y="452.30" width="78.30" height="77.40" fill="none" stroke="#000" stroke-width="1.6"/>
<rect x="324.35" y="452.30" width="78.30" height="77.40" fill="none" stroke="#000" stroke-width="1.6"/>
<rect x="409.30" y="452.30" width="78.30" height="77.40" fill="none" stroke="#000" stroke-width="1.6"/>
<rect x="69.50" y="540.40" width="78.30" height="77.40" fill="none" stroke="#000" stroke-width="1.6"/>
<rect x="154.45" y="540.40" width="78.30" height="77.40" fill="none" stroke="#000" stroke-width="1.6"/>
<rect x="239.40" y="540.40" width="78.30" height="77.40" fill="none" stroke="#000" stroke-width="1.6"/>
<rect x="324.35" y="540.40" width="78.30" height="77.40" fill="none" stroke="#000" stroke-width="1.6"/>
<rect x="409.30" y="540.40" width="78.30" height="77.40" fill="none" stroke="#000" stroke-width="1.6"/>
<rect x="69.50" y="679.90" width="78.30" height="77.40" fill="none" stroke="#000" stroke-width="1.6"/>
<rect x="154.45" y="679.90" width="78.30" height="77.40" fill="none" stroke="#000" stroke-width="1.6"/>
<rect x="239.40" y="679.90" width="78.30" height="77.40" fill="none" stroke="#000" stroke-width="1.6"/>
<rect x="324.35" y="679.90" width="78.30" height="77.40" fill="none" stroke="#000" stroke-width="1.6"/>
<rect x="409.30" y="679.90" width="78.30" height="77.40" fill="none" stroke="#000" stroke-width="1.6"/>
<rect x="69.50" y="768.10" width="78.30" height="77.40" fill="none" stroke="#000" stroke-width="1.6"/>
<rect x="154.45" y="768.10" width="78.30" height="77.40" fill="none" stroke="#000" stroke-width="1.6"/>
<rect x="239.40" y="768.10" width="78.30" height="77.40" fill="none" stroke="#000" stroke-width="1.6"/>
<rect x="324.35" y="768.10" width="78.30" height="77.40" fill="none" stroke="#000" stroke-width="1.6"/>
<rect x="409.30" y="768.10" width="78.30" height="77.40" fill="none" stroke="#000" stroke-width="1.6"/>
<rect x="69.50" y="856.30" width="78.30" height="77.40" fill="none" stroke="#000" stroke-width="1.6"/>
<rect x="154.45" y="856.30" width="78.30" height="77.40" fill="none" stroke="#000" stroke-width="1.6"/>
<rect x="239.40" y="856.30" width="78.30" height="77.40" fill="none" stroke="#000" stroke-width="1.6"/>
<rect x="324.35" y="856.30" width="78.30" height="77.40" fill="none" stroke="#000" stroke-width="1.6"/>
<rect x="409.30" y="856.30" width="78.30" height="77.40" fill="none" stroke="#000" stroke-width="1.6"/>
</svg></body></html>
